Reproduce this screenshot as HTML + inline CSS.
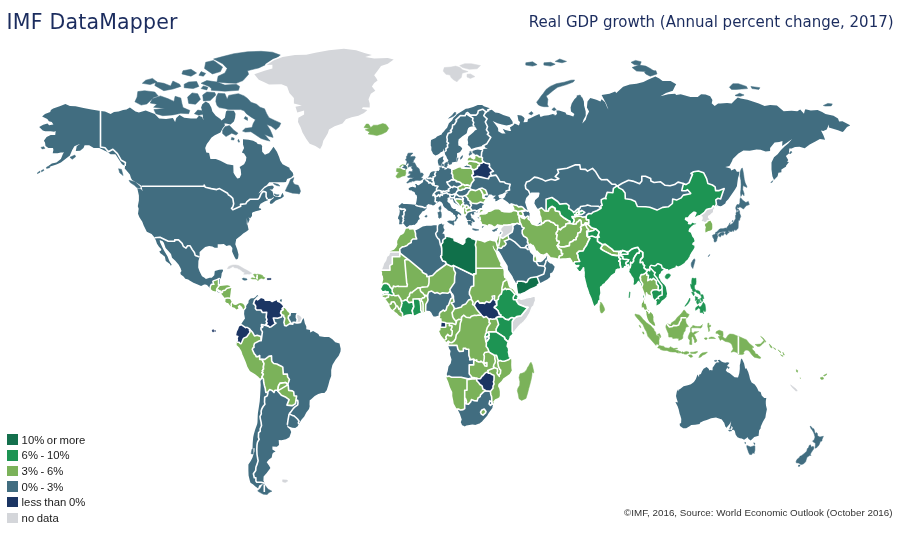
<!DOCTYPE html>
<html><head><meta charset="utf-8"><title>IMF DataMapper</title>
<style>
html,body{margin:0;padding:0;background:#fff}
body{width:900px;height:533px;position:relative;overflow:hidden;font-family:"Liberation Sans","DejaVu Sans",sans-serif}
.t1{position:absolute;left:6.6px;top:10.4px;letter-spacing:.2px;font-family:"DejaVu Sans","Liberation Sans",sans-serif;font-size:20.5px;line-height:24px;color:#1b2c5e;white-space:nowrap}
.t2{position:absolute;right:6.4px;top:13.5px;font-family:"DejaVu Sans","Liberation Sans",sans-serif;font-size:15px;line-height:17.5px;color:#1b2c5e;white-space:nowrap}
.lg{position:absolute;left:7px;top:432.6px;font-size:11.3px;word-spacing:-.5px;color:#1a1a1a}
.lg div{height:15.65px;line-height:15.65px;white-space:nowrap;position:relative;padding-left:14.6px}
.lg i{position:absolute;left:0;top:1.8px;width:10.5px;height:10.5px;display:block}
.ft{position:absolute;right:7.5px;top:507.9px;font-size:9.8px;line-height:9.8px;color:#333;white-space:nowrap}
svg{position:absolute;left:0;top:0}
.p{stroke:#fff;stroke-width:3;stroke-linejoin:round;paint-order:stroke}
.c{stroke:#fff;stroke-width:1.6;stroke-linejoin:round}
.i{stroke-width:.5;stroke-linejoin:round}
.b{fill:none;stroke:#fff;stroke-width:1.6;stroke-linejoin:round}
</style></head><body>
<svg width="900" height="533" viewBox="0 0 900 533">
<g fill="#416d80"><path class="p" d="M39.2 127.1L43.2 124.8L47.5 123.6L49.1 125.2L53.4 124.4L51.8 122L48.9 121.2L47.3 118.9L42.1 116.5L45 114.1L50.2 112.1L50.9 110L53.2 108.4L59.7 106.3L65.4 103.9L69.9 105.9L75.6 106.3L83.5 108L91.4 109.6L100.5 111L105 111.6L110.6 114.1L114 112.1L118.6 111.6L123.1 110L126.5 109.6L129.9 107.6L135.5 111.6L138.9 112.5L145.7 110.4L154.8 114.1L159.1 118.5L166.1 118.9L172.9 118.1L175.1 122L176.3 118.1L179.6 114.9L184.2 117.7L191 118.5L196.6 118.5L198.9 115.7L202.3 116.9L203.4 120.4L202.3 111.6L201.1 107.6L202.3 104.3L205.7 101.4L209.1 103.4L211.3 107.6L212.4 111.6L215.8 115.7L220.4 118.9L221.5 120.4L224.9 117.7L226 111.6L227.2 110.4L233.9 110.8L235.5 113.7L235.1 117.7L233.9 121.6L230.5 124.4L226 123.6L224.4 123.6L224.9 125.5L222.6 128.3L220.4 132.5L214.3 135.5L211.3 137.8L209.1 141.1L206.8 144.1L205.2 148.1L206.3 152.5L209.1 152.9L210.4 158.9L215.8 158.9L220.4 160.7L227.2 164.2L233.3 165.3L233.5 172.8L235.1 175.6L237.3 178.6L239.6 177.9L241.2 174.5L240.7 169.4L239.6 167L244.1 164.2L245.9 160.7L246.4 157.2L244.1 153.6L241.9 152.5L244.1 148.1L243 144.5L243 139.3L248.6 139.7L253.2 140.8L256.6 142.6L257.7 144.1L261.1 144.5L262.2 146.3L262 148.1L262.2 151.8L264.9 154.7L269 152.9L271.3 150L273.5 146.7L276.9 151.8L279.2 157.2L280.3 160.7L282.6 164.2L286 166L289.4 167.7L289.8 169.4L292.8 172.8L293.4 175.2L291.2 177.6L287.1 178.9L286 182L283.7 182.3L275.8 182.3L269.2 182.3L266.7 185.3L264.5 186.6L261.8 189.2L258.4 193.5L261.1 191.9L264.5 188.3L267.9 186.3L272.4 185.6L274 186.9L272.4 189.6L269.5 189.6L272.4 191.2L272.9 192.8L273.5 195.4L275.3 196.4L278.1 197.1L280.5 197.1L282.4 192.8L283.7 195.4L283.7 196.4L281.4 198.3L275.8 200.6L272.4 203.5L270.6 204.1L269.7 202.5L270.6 200.6L273.5 198.3L274 196.7L271.3 198.7L270.1 198.7L267.9 199L267.9 200.3L264.5 201.5L261.1 203.5L260.6 203.8L259.5 205.7L258.8 207.9L261.1 208.7L261.1 209.8L258.8 210.4L256.6 211L252.7 212.3L252 213.2L252 216L250 218.5L248.6 216.9L249.6 219.7L247.7 224L246.8 218.1L246.8 224.3L247.5 224.6L248.6 229.7L246.4 231.5L243.2 233.6L240.7 235.7L238.7 237.2L236.2 239.3L235.3 244.3L237.3 249.8L238.5 254.5L238.2 257.4L237.6 259.1L236 259.4L234.4 256.8L232.1 251.6L232.4 248.1L230.5 245.5L229 245.2L226.5 246.1L223.8 244L220.4 244.3L217.7 244.3L217.7 247.8L214.7 247.8L212.4 246.6L209.1 246.1L205.2 246.9L202.3 249.6L199.6 251.9L199.6 257.1L198.4 261.1L198.2 267.4L199.6 271.6L202 276.2L204.5 277.8L205.9 279.1L209.7 277.8L211.8 277.8L214.3 275.3L214.7 271.6L214.9 271.1L219.2 269.7L222.6 269.4L223.1 270.8L221.7 273.3L221.5 275.3L220.8 278.7L220.1 278.1L219.9 280.9L219.7 283.7L218.3 285.4L220.4 286L222.6 285.7L224.9 285.4L227.2 285.3L229.4 285.7L231.3 287.9L230.8 290.7L230.5 293.5L230.1 296.2L230.1 299L231.7 301.8L232.6 302.9L233.5 304.5L235.1 305.1L236.7 304.8L238.7 303.6L240.7 303L243 303.7L244.3 305.3L243.2 309.5L242.1 307L239.6 304.8L237.6 306.4L238.5 308.6L236.4 309.5L234.6 307.8L231.9 307.1L230.3 305.9L228.1 302.9L226.9 302.9L225.3 301.8L225.6 298.9L223.3 296.2L221.3 293.7L221.7 293.2L220.4 292.9L217.4 292.1L215.6 291.4L212.7 290.7L210.9 289.2L207 285.1L205.4 284.6L204.1 284.6L201.1 286L197.7 284.6L193.4 282.8L189.6 280.4L188.2 279.5L185.3 278.7L183.5 276.4L180.8 274.5L180.3 272.8L181.5 271.1L180.6 268.2L178.7 264.8L175.3 260.8L172 257.7L171 253.9L168.6 251.3L165.6 248.1L163.8 242.8L162.7 241.3L159.7 239.9L160 242.2L162.7 248.1L164.3 251L166.1 253.9L167.7 256.8L169 260.3L169.9 262L171.7 264.8L170.8 265.7L169.9 264L165.8 261.1L165.6 260.3L164.9 256.8L162.5 254.8L160.4 253.3L159.3 251.6L161.1 250.4L161.3 249.3L158.8 246.6L157 243.7L155.7 239.9L154.5 237.8L154.3 237.2L151.6 233.9L146.8 231.8L143.7 225.5L142.3 221.8L139.4 217.2L138 213.8L138.7 208.8L137.8 206.3L138.9 200.6L138.9 195.4L137.3 188.3L141.2 189.2L142.5 190.9L141.6 186.3L140.7 185.3L137.1 183L132.1 180L131 177.9L129.9 174.5L126.5 170.4L124.7 168.4L125.1 166L122 164.2L119.7 160.7L116.3 155.4L115.4 154.3L110.6 154.3L107.5 152.1L103.4 150L99.3 148.1L93.7 148.1L89.2 145.2L84.6 145.2L83.5 148.1L80.1 150.7L75.8 151.1L76.7 146.3L80.1 143.7L74.4 146.3L72.2 150L69.9 155.4L65.4 158.9L60.9 162.5L56.4 164.6L51.8 166L49.6 166.6L46.6 167.3L51.8 163.5L56.4 162.5L60.9 158.9L63.1 153.6L64.3 152.5L60.9 152.5L57.5 153.2L52.7 153.2L53.4 150L53 148.1L48.4 148.1L45.5 145.9L45 142.6L43.9 140.8L46.6 137L50.7 135.1L55.2 135.1L55.7 131L54.1 131.7L50.7 131.3L45.3 131.3L42.8 130.6Z"/><path class="p" d="M244.3 305.3L245.7 307.3L246.8 304.8L248.4 303.1L248.6 300.7L250.2 298.7L251.6 298.2L253.8 298.2L256.1 296.5L257.2 295L258.6 296.2L258.1 296.8L256.8 298.5L257.5 299.8L258.8 299L260.6 297.3L261.1 295.7L261.8 297.6L264.7 298.5L265.2 300.1L268.1 300.1L270.1 300.1L272.2 301.5L274.2 300.4L275.8 299.8L279.4 299.8L277.8 301.2L280.3 302.3L281.9 303.7L283.7 305.6L284.2 306.4L286.9 309.2L287.8 310.6L290 312.8L290.3 313L294.6 313L297.3 313.3L301.1 315.8L302.6 318L303.8 318.5L304.8 323.2L306.3 326.5L306.3 329.2L310 330L310.2 332.5L313.1 331.1L318.3 333.9L319.5 336.3L324.4 336.9L329 337L332.4 339.3L335.3 342.3L339.6 343.4L339.8 345.1L340.7 348.7L340.5 351.4L338.7 355.8L335.7 359.4L332.4 364.9L331.2 369.9L331.2 376.1L329.6 380.3L328.3 385.3L326.7 390.2L324.4 393L321.7 393L318.3 393.9L314.7 395.9L310.9 399.6L309.7 400.2L309.5 404.5L309.7 406.2L309 409.1L306.3 412.6L304.1 416.8L301.6 419.4L298.6 424.2L297.7 426.3L295.2 427.9L292.3 427.8L288.7 426.4L287.3 424.8L287.3 426.9L290 429.3L291.2 432L289.4 437.2L286 439.3L281.4 440.3L278.7 439.9L279 444.9L276.9 446.8L272.4 446.5L272.4 449.6L275.6 451.5L273.5 452.4L272.4 453.7L271.7 457.5L269 459.4L266.7 462.3L269 465.6L270.4 468L266.7 473.1L263.6 476.4L263.4 480.8L264.7 483.3L262.2 483.9L259.1 485.6L258.1 488.6L255.4 486.6L253.2 484.5L250.5 482.8L249.8 480.5L248.6 475.4L248.4 470.5L248.4 464.6L250.9 460.7L252.5 457.5L254.5 451.2L254.5 448L252.5 449L252.7 443.3L253.2 437.2L253.8 434.4L255.2 429.6L257.2 423.9L257.5 422.1L257.7 416.2L257.9 413.2L258.8 407.4L259.7 401.6L260.2 394.7L260.6 387.3L260.7 385.1L260.4 380.3L260.2 379.9L258.1 377.7L254.3 374.7L249.3 371.6L246.8 367.4L245 362.2L243 357.5L241.6 354.2L240.7 351.4L238.7 348.1L235.8 345.4L236 343.2L235.5 342.1L237.3 338.8L237.8 338.5L238.7 336L236.2 335.2L236.9 331.8L238.2 329.2L239.1 326.5L241.2 325.4L241.2 324.3L242.5 322.1L245 318.5L244.1 314.1L244.3 311.1L243.2 309.5L244.8 307.5Z"/></g>
<path class="i" fill="#416d80" stroke="#416d80" d="M280.8 123.2L279.2 126.7L275.8 129.8L271.3 126.3L266.7 124.4L270.1 129.8L272.4 135.1L273.1 137.4L269 136.3L264.5 134.4L270.1 141.1L265.6 140L261.1 138.5L256.6 135.5L250.9 131.7L245.3 132.1L242.5 131L245.3 128.3L252 127.5L253.2 123.6L255.4 119.7L250.9 116.9L246.4 113.7L244.1 110.8L240.7 109.6L233.9 109.6L228.3 109.6L224.9 108.4L219.2 107.6L217 105.5L215.8 101.4L216.3 97.1L218.1 93.3L224.9 93.7L227.2 99.3L228.7 95.4L235.1 94.2L238.5 93.7L244.1 95.9L247.5 98.4L250.9 102.2L256.6 104.3L260 107.2L264.5 108.8L266.7 113.7L269 117.7L274.7 120.4ZM155.9 113.7L162.7 115.7L172.9 114.9L180.8 113.3L188.7 113.7L189.8 110.4L183 107.6L181.9 103.4L180.8 98L175.1 96.3L174 101.4L168.3 98.8L160.4 95.9L152.5 98.8L150.2 103L157 104.3L153.6 107.2L164.9 108.4L153.9 109.6ZM134.9 101.8L141.2 105.1L146.8 103.9L153.6 97.6L158.2 95.9L154.8 92L144.6 90.7L137.8 91.6L137.1 97.1ZM154.8 85.5L163.8 90.7L172.9 89L180.8 86.4L179.6 84.2L172.9 81.1L170.6 85.9L163.8 83.3L155.9 82ZM188.7 103.4L195.5 104.3L200.5 99.3L197.7 93.7L192.1 92.9L187.6 97.1ZM203.4 100.9L210.2 100.5L215.8 95L214.7 92.5L206.8 92L202.7 95ZM211.3 90.3L224.9 91.2L238.5 90.3L239.6 86.4L236.2 84.2L224.9 85.1L217 82L206.8 80.6L201.1 83.3L209.1 86.4L211.3 88.6ZM217 82L227.2 82.9L236.2 83.3L243 80.6L248.6 74.3L247.5 70.7L258.8 67.9L272.4 61.4L280.3 55.1L272.4 52.2L261.1 51.3L247.5 51.8L233.9 53.7L222.6 56.6L213.6 59L222.6 63.7L227.2 68.4L224.9 73L218.1 76.2ZM204.5 68.4L212.4 73.9L220.4 71.6L222.6 67L213.6 60.4L205.7 62.3ZM222.6 133.6L226 136.6L231.7 133.2L236.2 135.1L238 133.2L233.9 130.2L229.4 125.5L224.9 126.7L222.6 130.2ZM285.3 190.9L292.8 193.2L293.9 193.2L297.3 193.5L299.3 194L300.5 191.2L299.5 187.9L298.2 185.3L295 184.6L293.4 183L292.8 181.3L293.9 177.6L290.5 179.6L288.9 183.6L287.1 186.9ZM129 180.3L135.5 182L140.1 186.6L140.3 188.3L137.1 187.8L134.4 185.3L130.3 182.6ZM118.6 168.7L121.5 169.4L123.1 175.6L119.7 172.8ZM69.9 157.2L74.9 155L75.6 156.8L72.2 159.3ZM46.4 167.3L50.2 166.3L49.6 167.7L46.6 168.4ZM41.2 170.8L43.5 169.4L43.9 170.4L41.6 171.8ZM37.1 173.2L39.8 171.1L40.1 172.2L37.6 173.5ZM41 147.4L43.9 146.7L44.8 148.5L42.1 148.9ZM142.3 83.3L150.2 84.6L157 82L152.5 78.4L145.7 80.2ZM184.2 87.7L193.2 88.6L198.9 86.4L196.6 81.5L188.7 82L184.2 84.2ZM201.1 88.6L206.8 89.9L207.9 87.3L203.4 85.9ZM194.4 113.7L198.9 115.3L203.4 114.1L202.3 110.8L197.7 110ZM181.9 73.9L191 76.2L196.6 73L191 69.3L183 70.7ZM198.9 75.3L203.4 76.2L205.7 73.4L201.1 71.6ZM274 193.8L276.9 194.8L279.2 194.8L278.1 196.1L275.1 195.4ZM273.5 183.3L278.1 184.3L279.9 186L276.9 185.6L273.8 184ZM238.5 139.3L239.6 141.9L238.7 142.3L237.8 140.8ZM231.7 137.4L234.2 138.2L233.9 140L231.2 139.7ZM244.1 118.5L247.5 120.4L247.5 117.7L245.3 116.5ZM264.3 484.2L265.2 485.6L267.9 489L271.9 491.2L269 492.4L267.2 494.5L263.4 494.2L261.1 493.1L257.7 491.1L258.8 489.7L260 489L261.1 487.3L262.7 484.5ZM252 449L253.2 449.3L253.2 454L251.1 453.7ZM242.2 278.8L243.2 278.1L245.5 278.4L247.1 279.1L246.8 279.9L244.8 280.2L243.4 280ZM279.4 301.6L280.3 299.8L281.6 299.6L281.4 301.5Z"/>
<g fill="#d4d6da"><path class="p" d="M320.1 148.9L315.4 145.9L309.7 143.7L306.3 138.9L302.5 132.5L300.7 127.5L298 122L298.4 117.7L304.1 114.5L304.1 110.4L297.3 112.5L295.5 106.7L301.8 105.5L293.9 103.4L293.9 98L289.4 92.9L287.1 86.4L281.4 84.2L269 84.6L263.8 82L258.8 79.8L254.3 74.3L264.5 70.7L272.4 68.4L272.4 64.7L266.7 65.1L273.5 60.4L282.6 57.1L295 55.1L306.3 54.7L315.4 52.7L329 50.3L343.9 48.8L356.1 50.3L365.2 53.2L371.9 55.1L365.2 57.1L374.2 58.5L387.8 58L393.7 59.5L387.8 63.7L381 66.1L377.6 70.7L374.2 75.3L376.5 78.4L377.6 80.6L374.2 82.9L371.9 86.4L375.3 90.7L370.8 93.7L368.5 99.3L369.7 103.4L369.7 107.6L362.9 107.2L361.8 108.8L367.4 110L364 112.9L358.4 115.7L351.6 117.3L345.9 119.3L342.5 123.6L334.6 126.3L329 129.4L327.8 133.2L325.6 137L323.3 140.8L322.2 145.2Z"/></g>
<path class="i" fill="#d4d6da" stroke="#d4d6da" d="M227.3 268.7L228.7 266.5L231.2 265.4L233 265L235.8 265L238.5 265.5L241.2 267.1L244.1 268.8L247.5 270.5L248.4 271.1L251.7 273.2L249.3 274.2L248 274L243.7 274.3L244.8 272.5L243 271.9L241.9 271.1L239.6 269.2L238.5 269L237.3 268.1L234.4 267.7L233.5 267.1L233.3 266.3L230.8 267.7L229.4 268.5ZM282.6 479.8L287.1 480.1L287.8 481.1L285.3 482.5L282.6 481.8Z"/>
<path class="i" fill="#7bb25a" stroke="#7bb25a" d="M364 127.5L366.3 124L368.5 124L370.8 127.5L373.5 125.2L377.6 125.2L382.8 123.6L386 124.4L388.7 128.3L386.6 131.7L382.1 134L376.9 135.5L373.1 134.8L368.1 134L369.7 132.1L365.2 129.8L369.7 128.6ZM251 278.5L251.8 277.7L254.3 278.3L255.8 278L254.8 276.4L253.4 274.5L255 274L256.1 274.6L257.4 274.2L259.5 274.5L261.3 274.9L263 275.9L262 276.6L264 276.9L264.9 277.8L263.9 279L261.3 278.3L259.7 279L258.6 279.8L257.9 280.7L257.1 279.4L255.3 279L252.6 279ZM531 362.2L532.3 364.9L533.7 371.3L533.7 373L532.1 371.9L531.9 375.5L531.2 379.3L529.9 384.5L528.7 388.7L527.8 392.4L526 398.4L521.6 400.4L519 398.7L518.2 394L517.3 390.7L517.9 388.2L519.7 385.3L519.9 381.7L519 377.5L520 373.8L521.9 373.3L524.2 372.4L526.5 369.9L527.8 367.1L528.7 366L529.9 363.5Z"/>
<g fill="#7bb25a"><path class="p" d="M406.1 227.9L407.5 227.6L409.5 229.7L412.7 229.4L414.5 230L414.5 230L418.1 228.2L419.7 227.3L422.4 225.8L426.5 224.9L431 224.9L435.1 224.3L437.1 224.6L438.9 224.4L438.9 224.4L441.8 223.4L442.8 224.9L444.4 224.1L443.4 226.1L443.5 227.9L444.6 229.7L443.9 231.2L442.3 233.6L444.3 233.9L444.6 235.7L445.6 235.9L445.6 235.9L449.3 236.6L451.8 237.5L453.8 238.1L454.3 240.5L457 241.6L460.2 243.1L462.7 244.3L464.7 242.5L464.8 239L467 237.1L468.5 236.6L470.7 237.1L472.2 238.7L473.7 239L476.3 240.3L476.3 240.3L481 241.2L484.8 242.7L487.1 241.6L489.4 240.8L490 240.6L492.5 241.3L495.9 241.8L496.9 241.3L498.4 246.6L498 248.4L497.4 251L496.9 251.8L495.5 250.1L494.1 248.1L493.1 245.3L492.6 246.3L493.3 248.4L494.1 250.1L495.4 251.9L495.9 253.3L497 256.5L498.4 259.5L499.8 262.5L500.4 262.8L500 265.4L502.9 268.2L502.9 268.2L503.6 271.1L503.6 275L503.9 276.4L504.1 277.8L506.8 279.5L506.8 279.5L508.7 286.2L509.9 287.9L512.7 289.3L515.4 292.9L516.2 293.5L517 294.3L517 294.3L517.4 295.1L517.6 296.4L515.8 297.5L517.1 297.3L517.3 297.8L517.3 297.8L517.9 297.9L521.3 299.3L524.6 298.5L526.9 297.6L529.2 297.1L530.8 297.1L533.2 296.2L535.3 296L535.7 300.5L534.6 303.1L533.9 305.9L532.2 307.4L530.5 311.9L529.2 314.5L526.9 318.2L524.2 321.5L522 323.6L520.7 324.5L519 326.2L515.7 330.2L513.4 333.7L513.4 333.7L512 335.5L510.4 336.6L510.2 338L509.2 340.3L508.1 341.9L508.1 341.9L507.9 343L507.2 346.2L508.4 347.8L508.8 350.3L508.4 352L508.8 353.7L509.3 356.6L511 357.9L511 357.9L511.3 360.8L511.2 364.9L511.4 368.3L511.8 370.5L509.7 374L506.5 376.3L503.2 378.6L501.6 381.1L498.4 384.1L498 386.2L499.3 388.7L499.8 391.6L499.8 395.6L499.3 397.3L497.7 398.3L495.2 399.3L493.2 401.5L493.9 404.1L493.9 404.1L493.2 407.4L492.9 408.6L492.1 409.7L489.7 412.9L487.8 416.2L485.3 419.1L482.6 422.1L480.3 423.9L477.5 424.9L475.6 425.7L472.4 425.2L469.6 425.7L466.7 426.3L464.7 427.5L463.1 426.4L462.1 426.1L461.3 426.1L461.1 424.8L459.9 422.1L460.9 419.4L459.3 414.7L457.6 411L456.7 409.1L456.7 409.1L453.7 403.5L453.2 400.2L452.3 395.9L452.3 392.9L452.3 392.1L451 389.6L449.8 386.8L448.2 381.7L446 376.8L446 376.8L446.1 373.3L446.9 371L447.7 366.3L450 363.1L450.7 359.4L449.3 355L449.3 353.3L449.8 351.1L448.5 349.1L447.4 345.9L447.4 345.9L447.1 345.2L447.1 344.9L446.6 342.9L446.3 342.3L444.6 340L443.5 338.6L441.2 335.8L440.5 334.4L439.1 331L440.5 330.3L440.6 328.1L441.2 326.5L441.5 324.1L441.6 322.8L441.8 321.1L441.4 318.2L440.3 318.2L439.5 316.7L439.5 316.7L438.2 316.6L436.4 317L435.3 317.2L433.3 317.4L431.7 315.2L430.8 313.3L429.6 311.9L427.1 311.5L425.6 311.8L425.6 311.8L424.9 311.8L423.2 312.2L422.2 312.5L422.2 312.5L421.7 313L419 314L416.6 315.2L414.7 316.2L412.4 315.2L412.4 315.2L410.4 314.8L408.1 315.1L405.6 315.6L402.5 317.3L402.4 317.3L402.4 317.3L399 315.5L396.7 313L395 311.9L393.4 310.3L391.2 308.9L389.5 305.9L389.4 304.4L388.5 303.1L386.6 300.4L385.4 299.1L385.5 298.5L384.2 296.7L383.3 296.9L381.7 295.3L381.7 295.3L381.4 294.7L381.4 293.3L381.9 292.2L382 291.8L381.4 290.7L379.9 288.7L380.8 287.9L382.1 285L382.1 285L382.6 282.3L383.3 279.3L382.8 275.6L382.1 275.6L382.1 272.2L380.9 271.6L380.9 271.6L381 269.9L382.6 266.3L383.4 263.4L385.5 260.3L386.6 256.5L388.7 254.8L389.1 253.5L389.7 252L389.7 252L390.3 251.2L393.4 250.1L394.3 249.6L396.4 246.9L397.6 244L397.1 243.3L397.3 240.8L398.5 238.4L400.2 235.6L402.3 234.5L404 233.2L405.5 229.7L406.1 227.9Z"/></g>
<g fill="#7bb25a"><path class="c" d="M260.2 379.9L258.1 377.7L254.3 374.7L249.3 371.6L246.8 367.4L245 362.2L243 357.5L241.6 354.2L240.7 351.4L238.7 348.1L235.8 345.4L236 343.2L235.5 342.1L237.3 338.8L237.8 338.5L237.8 338.5L238.2 339.9L237.6 341.4L239.4 341.4L240.7 342.9L242.1 339.6L242.5 338.5L243.4 337.4L246.2 336.3L249.3 331.9L248.4 329.6L249.3 329.5L249.3 329.5L251.1 330.7L252.7 332.6L254.5 335.9L257.2 335.2L260.9 336.6L261.2 340.7L261.2 340.7L259.5 340.7L254.5 343.4L253.8 345.9L254.1 347.3L252.7 348.1L252.3 349.5L254.3 353.9L255.7 355.3L256.1 356.6L258.1 356.6L259.7 355.5L259.7 359.4L262 359.3L262 359.3L264 363.5L263.4 366.9L263.6 369.1L262.4 370.5L262.9 371.6L262 372.7L263.4 374.1L262 376.9L262.2 377.5L260.2 379.9Z"/><path class="c" d="M262 359.3L263.8 359.4L264.9 359.4L268.8 356.4L271.5 355.8L271.7 360.8L272.4 362.2L273.8 363.5L276.9 364L279.2 365.2L281.4 366.3L282.8 367.1L283.3 374.1L287.3 374.1L287.6 376.9L289.4 379.4L288.7 381.7L287.9 383.9L287.8 384.9L287.8 384.9L285.7 382.5L279.9 383.4L278.5 385.9L277.7 390.9L277.7 390.9L277.4 390.2L274.9 390.2L274 392.4L271.9 390.4L269.7 389.6L267.4 392.4L267.4 392.4L265.8 392.4L265.2 388.2L264.5 385.9L263.8 382.8L263.4 378.9L262.2 377.5L262.2 377.5L262 376.9L263.4 374.1L262 372.7L262.9 371.6L262.4 370.5L263.6 369.1L263.4 366.9L264 363.5L262 359.3Z"/><path class="c" d="M277.7 390.9L278.5 385.9L279.9 383.4L285.7 382.5L287.8 384.9L277.7 390.9L281.4 395.3L286 397.3L289.1 399.6L286.9 405.1L291.9 405.6L293 405.4L295.5 403.6L295.9 400.4L295.9 400.4L296.6 396.1L294.1 395.7L293.7 391.9L292.3 390.9L288.7 390.4L288.2 385.1L287.8 384.9Z"/><path class="c" d="M284.2 306.4L286.9 309.2L287.8 310.6L290 312.8L290.3 313L289.8 315.5L288.5 316.1L288.2 318.2L289.1 319.9L290 321.5L291.6 324L291.6 324L289.8 323.7L286.4 325.9L284.6 325.4L284.4 324L283.9 322.6L284.8 318.5L284.4 317.2L283.5 316.9L283.7 315.2L282.1 315L282.1 315L280.5 312.9L281.2 310.8L283 309.7L282.1 308.6L284.2 306.4Z"/></g>
<g fill="#7bb25a"><path class="p" d="M210.9 289.2L210.9 287.1L211.9 285L214.8 284.9L213.6 281.6L217.8 280.1L217.7 285.4L218.3 285.4L219.9 286L217.8 288.7L217.3 289.6L216.7 290.1L215.6 291.4L212.7 290.7Z"/><path class="p" d="M219.9 286L220.4 286L222.6 285.7L224.9 285.4L227.2 285.3L229.4 285.7L231.3 287.9L228.3 288.7L227.2 289L225.3 291.1L223.3 291.3L223.2 292.6L222 293.5L221.7 293.2L220.8 292.4L221 291.3L219.2 290.8L218.1 289.9L217.3 289.6L217.8 288.7Z"/><path class="p" d="M231.3 287.9L230.8 290.7L230.5 293.5L230.1 296.2L230.1 299L227.8 298.7L225.6 298.9L223.3 296.2L221.3 293.7L221.7 293.2L222 293.5L223.2 292.6L223.3 291.3L225.3 291.1L227.2 289L228.3 288.7L231.3 287.9Z"/><path class="p" d="M230.1 299L231.7 301.8L232.6 302.9L231.9 304.2L232.1 305.6L231.9 307.1L230.3 305.9L228.1 302.9L226.9 302.9L225.3 301.8L225.6 298.9L227.8 298.7Z"/><path class="p" d="M232.6 302.9L233.5 304.5L235.1 305.1L236.7 304.8L238.7 303.6L240.7 303L243 303.7L244.3 305.3L244.8 307.5L243.2 309.5L242.1 307L239.6 304.8L237.6 306.4L238.5 308.6L236.4 309.5L234.6 307.8L231.9 307.1L232.1 305.6L231.9 304.2Z"/></g>
<g fill="#d4d6da"><path class="c" d="M297.3 313.3L301.1 315.8L302.6 318L301.8 319.3L300.5 322.4L297.7 322.9L296.2 322.9L296.2 322.9L296.8 321.5L297.3 319.3L296.4 317.7L296.4 315.5L297.3 313.3Z"/></g>
<g fill="#1b3563"><path class="c" d="M258.1 296.8L256.8 298.5L257.5 299.8L258.8 299L260.6 297.3L261.1 295.7L261.8 297.6L264.7 298.5L265.2 300.1L268.1 300.1L270.1 300.1L272.2 301.5L274.2 300.4L275.8 299.8L279.4 299.8L277.8 301.2L280.3 302.3L281.9 303.7L283.7 305.6L284.2 306.4L284.2 306.4L282.1 308.6L283 309.7L281.2 310.8L280.5 312.9L282.1 315L282.1 315L281.4 316.9L277.6 318.2L274.7 318L273.3 318L274.7 322.4L276 323.2L271.3 326.7L269.5 327.1L268.1 325.9L268.1 325.9L267.6 325.9L265.8 324.4L267.2 322.9L266.1 321.5L267 319.6L266.1 317.4L266.7 312.2L262.4 312.5L260.9 310L256.6 310L255.4 308.6L255.7 306.2L254.3 304L253.4 304L254.5 300.4L256.1 298.7L258.1 296.8Z"/></g>
<g fill="#1b3563"><path class="p" d="M237.8 338.5L238.7 336L236.2 335.2L236.9 331.8L238.2 329.2L239.1 326.5L241.2 325.4L243.4 327L245.5 328.5L246.8 328.1L249.3 329.5L249.3 329.5L248.4 329.6L249.3 331.9L246.2 336.3L243.4 337.4L242.5 338.5L242.1 339.6L240.7 342.9L239.4 341.4L237.6 341.4L238.2 339.9L237.8 338.5Z"/></g>
<path class="i" fill="#1b3563" stroke="#1b3563" d="M267.3 278.5L271 278.4L271 279.5L267.4 279.7ZM212.2 330L213.6 329.7L213.8 331.7L212.7 331.9ZM214.7 330.6L215.4 330.6L215.4 331.4L214.7 331.3Z"/>
<g fill="#416d80"><path class="c" d="M414.5 230L418.1 228.2L419.7 227.3L422.4 225.8L426.5 224.9L431 224.9L435.1 224.3L437.1 224.6L438.9 224.4L438.9 224.4L438.3 225.8L438.1 227.3L438.2 229.4L438.1 231.4L436.4 233.6L437 235.7L438.3 237.8L439.9 239L441.1 244.6L441.1 244.6L441.7 248.1L441.8 251.6L441.7 255.4L440.7 256.4L442.6 260.8L445.5 261.7L446.5 264L446.5 264L436.4 271.5L432.6 275.5L429.1 276.3L429.1 276.3L426.9 276.7L426.7 274.5L423.5 273.1L422.2 271.9L422.1 270.8L408.5 259.7L408.5 259.7L399.8 253L399.8 253L399.8 252L399.8 252L399.8 249L402.3 246.9L404.5 246.5L407 245.5L408.4 244L411.2 242.5L411.3 240.5L412.9 239L416.7 239L416.5 238.4L415.6 236.3L415.5 233.3L414.5 230Z"/><path class="c" d="M450.2 291.5L449.9 289.4L454.5 282.6L454.7 276.7L455.5 272.8L453.8 269.7L453.4 265.4L453.4 265.4L473.7 275.3L473.7 275.3L473.7 286L471.3 286.5L470.1 289.3L469.4 291.8L469.4 294.3L470.4 295.7L471.3 297.9L471.2 299.2L471.2 299.2L468.5 300.1L465.6 304.1L462.4 305.2L461.5 307L457.2 308.2L454.5 308.6L454.5 308.6L453.2 305.6L451.1 302.9L454.1 301.8L453.5 299L453.4 296.2L452.3 293.9L451.6 293.7L451.6 293.7L450.2 291.5Z"/><path class="c" d="M427.6 297.1L427.8 294.6L428.7 292.1L431.7 291.1L434.8 293.2L437.1 292.5L439.8 293.9L442.5 292.8L447.7 293.3L450.2 291.5L450.2 291.5L451.6 293.7L451.6 293.7L452.5 297.6L450.7 299L449.3 302.9L448.4 305.3L447.1 306.2L446.1 310L444.6 311.1L443.2 310L441.6 311.4L440.5 311.9L439.4 313.9L439.5 316.7L439.5 316.7L438.2 316.6L436.4 317L435.3 317.2L433.3 317.4L431.7 315.2L430.8 313.3L429.6 311.9L427.1 311.5L425.6 311.8L425.6 311.8L425.7 307.8L425.8 304.4L427.6 301.2L428 299.8L427.6 297.1Z"/><path class="c" d="M446 376.8L446.1 373.3L446.9 371L447.7 366.3L450 363.1L450.7 359.4L449.3 355L449.3 353.3L449.8 351.1L448.5 349.1L447.4 345.9L447.4 345.6L449.3 345.2L457 345.4L457.9 349.2L459.3 351.4L463.3 351.1L463.3 348.4L465.8 348.4L466.1 349.2L468.8 349.2L468.9 355.5L469.9 358.3L469.7 359.9L473.5 359.1L473.7 359.1L473.7 359.1L473.7 364.9L469.2 364.9L469.2 373.8L472.4 377.7L472.4 377.7L467.9 378.9L461.1 377.2L451.6 377.2L448.9 376.1L446 376.8Z"/><path class="c" d="M447.1 344.9L446.6 342.9L448.4 341.2L449.1 341.8L448 344.8Z"/><path class="c" d="M493.9 404.1L493.2 407.4L492.9 408.6L492.1 409.7L489.7 412.9L487.8 416.2L485.3 419.1L482.6 422.1L480.3 423.9L477.5 424.9L475.6 425.7L472.4 425.2L469.6 425.7L466.7 426.3L464.7 427.5L463.1 426.4L462.1 426.1L461.3 426.1L461.1 424.8L459.9 422.1L460.9 419.4L459.3 414.7L457.6 411L456.7 409.1L456.7 409.1L458.8 409L459.3 409.6L460.6 410L463.1 409.6L464.7 408.6L464.7 398L464.7 398L465.6 398.9L466.5 401.3L466.2 403.9L468.5 404.1L470.8 401.6L471.5 399.6L474.4 400.7L477.1 400.9L478 398L480.2 396.6L480.5 394.9L483.5 391.9L485.9 390.7L485.9 390.7L488 391L490.3 391.4L490.3 391.4L490.8 394.4L491.6 396.7L491.8 400.4L491.8 401.5L492.1 404.1L493.9 404.1Z"/><path class="c" d="M485.1 336.6L487.1 336.7L488.6 335.8L489.1 338.2L488.2 339.5L487.3 341L485.8 341.4L485.5 338.2Z"/></g>
<g fill="#416d80"><path class="p" d="M438.9 224.4L441.8 223.4L442.8 224.9L444.4 224.1L443.4 226.1L443.5 227.9L444.6 229.7L443.9 231.2L442.3 233.6L444.3 233.9L444.6 235.7L445.6 235.9L445.6 235.9L445.5 238.1L443.4 239.4L442.8 240.2L442.8 242.5L441.1 244.6L441.1 244.6L439.9 239L438.3 237.8L437 235.7L436.4 233.6L438.1 231.4L438.2 229.4L438.1 227.3L438.3 225.8L438.9 224.4Z"/></g>
<g fill="#d4d6da"><path class="c" d="M380.9 271.6L381 269.9L382.6 266.3L383.4 263.4L385.5 260.3L386.6 256.5L388.7 254.8L389.1 253.5L389.7 252L399.8 252L399.8 253L399.8 256.8L392.3 256.8L392.3 264.1L390 265.4L389.8 266L390 270.1L381.1 270.1Z"/><path class="c" d="M517.3 297.8L517.9 297.9L521.3 299.3L524.6 298.5L526.9 297.6L529.2 297.1L530.8 297.1L533.2 296.2L535.3 296L535.7 300.5L534.6 303.1L533.9 305.9L532.2 307.4L530.5 311.9L529.2 314.5L526.9 318.2L524.2 321.5L522 323.6L520.7 324.5L519 326.2L515.7 330.2L513.4 333.7L513.4 333.7L512.2 331.5L512.2 321.5L514.2 318.4L514.2 318.4L516.7 316.6L521.1 315.8L528 307.3L525.8 307.3L519 304.5L518.1 303.6L516.3 300.9L516.6 299.1Z"/></g>
<g fill="#10704a"><path class="c" d="M445.6 235.9L449.3 236.6L451.8 237.5L453.8 238.1L454.3 240.5L457 241.6L460.2 243.1L462.7 244.3L464.7 242.5L464.8 239L467 237.1L468.5 236.6L470.7 237.1L472.2 238.7L473.7 239L476.3 240.3L476.3 240.3L475.3 244.9L476 247.5L476 268.2L476 268.2L476 273.9L473.7 273.9L473.7 275.3L473.7 275.3L453.4 265.4L453.4 265.4L451.6 266.5L446.5 264L446.5 264L445.5 261.7L442.6 260.8L440.7 256.4L441.7 255.4L441.8 251.6L441.7 248.1L441.1 244.6L441.1 244.6L442.8 242.5L442.8 240.2L443.4 239.4L445.5 238.1L445.6 235.9Z"/></g>
<g fill="#1d9453"><path class="c" d="M381.7 295.3L381.4 294.7L381.4 293.3L381.9 292.2L382 291.8L381.4 290.7L379.9 288.7L380.8 287.9L382.1 285L382.1 285L383.3 283.7L385.3 283.3L387.1 283.5L389.1 285L390.3 287.4L391.7 288.6L391.7 288.6L392.3 289.9L392.2 291.5L392.5 292.4L393.7 293.5L393.7 295.1L393.7 295.1L391.5 295.4L389.8 294.6L388.5 294.4L388.5 294.4L385.1 294.4L381.7 295.3Z"/><path class="c" d="M412.4 315.2L410.4 314.8L408.1 315.1L405.6 315.6L402.5 317.3L402.4 317.3L402.4 317.3L402.6 314.7L402.3 313L400.4 311.4L400.3 308.5L400.3 308.5L400.8 307.4L401.4 306L401.6 304.2L402.1 303.4L401.4 301.2L401.4 301.2L403.7 300.8L405.4 299.8L407 300.5L407 300.5L409 302.6L412.2 302L413.3 303.1L413.3 303.1L413.8 306.7L412.2 310.6L413.1 314.4L412.4 315.2Z"/><path class="c" d="M422.2 312.5L421.7 313L419 314L416.6 315.2L414.7 316.2L412.4 315.2L412.4 315.2L413.1 314.4L412.2 310.6L413.8 306.7L413.3 303.1L413.3 303.1L413 299L419.1 298.7L419.1 298.7L419.4 300.1L420.2 300.9L420.4 303.1L420.7 305.9L420.8 308.9L420.7 310.3L422.2 312.5Z"/><path class="c" d="M514.2 318.4L511.8 317.6L509.6 318.7L508.8 319.9L505.6 319.3L502.8 317L501 317L500.8 316.6L500.8 316.6L500.7 314.7L499.3 314.4L498 310.8L496.4 309.2L494.1 307.5L494.8 306.2L496.6 305.6L496.6 302.9L496.6 302.9L497 300.1L498.4 299.3L498.6 296.8L500.2 294.6L501.2 294.3L502 291.3L502 289.9L502 289.9L503.8 289.6L505.2 288.2L506.3 289.6L507.7 289L510.4 289.4L512.7 291.8L515.4 294.9L515.4 294.9L513.9 297.6L514 299.1L516.2 299.1L516.6 299.1L516.6 299.1L516.3 300.9L518.1 303.6L519 304.5L525.8 307.3L528 307.3L521.1 315.8L516.7 316.6L514.2 318.4Z"/><path class="c" d="M513.4 333.7L512 335.5L510.4 336.6L510.2 338L509.2 340.3L508.1 341.9L508.1 341.9L504.7 338.8L504.5 337.4L496.1 331.9L496.1 331.9L496.1 328.9L496.6 328.1L497.5 326.2L498.6 324.5L497.5 320.7L496.3 317.6L496.3 317.6L498.6 316.6L500.8 316.6L500.8 316.6L501 317L502.8 317L505.6 319.3L508.8 319.9L509.6 318.7L511.8 317.6L514.2 318.4L514.2 318.4L512.2 321.5L512.2 331.5L513.4 333.7Z"/><path class="c" d="M508.1 341.9L507.9 343L507.2 346.2L508.4 347.8L508.8 350.3L508.4 352L508.8 353.7L509.3 356.6L511 357.9L511 357.9L508.4 359.8L506.5 360.5L504.3 361.3L502 361.3L500.4 360.5L498.5 360.9L498.5 360.9L497.7 359.4L497 356.6L496.4 355.3L494 355L494 355L492.7 354.2L490 352.8L489 351.7L489 351.7L487.8 348.4L486.2 346.5L486.4 342.9L485.8 341.4L485.8 341.4L487.3 341L488.2 339.5L489.1 338.2L488.6 335.8L488.6 335.8L489.2 335.5L488.4 332.1L488.4 332.1L489.1 331.9L496.1 331.9L496.1 331.9L504.5 337.4L504.7 338.8L508.1 341.9Z"/><path class="c" d="M486.4 333L488.4 332.1L489.2 335.5L488.6 335.8L487.1 336.7L485.1 336.6L485.6 333.9Z"/></g>
<g fill="#1d9453"><path class="p" d="M517 294.3L517.4 295.1L517.6 296.4L515.8 297.5L517.1 297.3L517.3 297.8L516.6 299.1L516.6 299.1L516.2 299.1L514 299.1L513.9 297.6L515.4 294.9Z"/></g>
<g fill="#1b3563"><path class="c" d="M496.6 302.9L496.6 305.6L494.8 306.2L494.1 307.5L496.4 309.2L498 310.8L499.3 314.4L500.7 314.7L500.8 316.6L500.8 316.6L498.6 316.6L496.3 317.6L496.3 317.6L495.2 318.9L492.3 319.3L490 318.8L489.3 319.6L489.3 319.6L487.8 318L486.2 316.5L483.7 317.4L481.6 315.3L481.6 315.3L479.3 312.6L476.5 309.2L474.2 305.3L474.2 305.3L475.6 302.3L478 300.7L479.6 303.1L482.6 302.9L484.6 303.4L486.4 301.5L489.1 302.5L490 302.3L492.7 298.7L492.5 297.1L492.1 296.2L494.6 295.7L494.3 299.8L496.1 301.2L496.1 303.1L496.6 302.9Z"/><path class="c" d="M476.6 378.3L477.9 378.6L480.5 378.7L481.9 376.3L482.8 375.8L484.7 373.4L486.2 372.3L488.3 372.2L488.3 372.2L488.2 373.3L490.3 373.3L491.8 374.5L493.9 375.2L494.1 376.9L494 380.3L493.4 381.7L494.1 383.9L493 386.2L493 388.2L490.3 391.4L490.3 391.4L488 391L485.9 390.7L485.9 390.7L482.8 389L482.1 385.9L479.9 384.5L478.7 382.8L476.7 380.6L476.6 378.3Z"/></g>
<g fill="#1b3563"><path class="p" d="M441.6 322.8L445.1 323.3L445.1 326.5L441.2 326.5L441.5 324.1Z"/></g>
<g fill="#7bb25a"><path class="c" d="M381.4 293.2L383.7 293.1L384.8 292.4L387.1 292.9L388.2 292.5L388.1 291.9L386.9 292.1L385.3 291.3L384.4 291.8L382 291.8L381.9 292.2Z"/><path class="c" d="M484.2 409.1L486 411.5L485.5 412.9L483 415.1L481.4 414.1L480.5 412.1L481.9 410Z"/></g>
<g fill="#416d80"><path class="p" d="M496.9 241.3L498.1 239L498.6 236.9L498.9 236L499.8 233.6L500.6 232L500.8 231.4L500.3 228.7L500.7 227.5L500.7 227.5L501.3 225.5L500 225.5L497.7 224.9L495.7 226.9L493.7 227.2L491.8 225.6L488.9 224.7L488.2 226.5L485.3 225.3L483.2 224.9L481.4 224.3L481 222.4L478.9 220.3L480.3 219.8L479.9 217.2L478.4 216.6L478.7 215.1L480.5 213.8L482.7 214L485.1 213.8L487.1 212.7L485.1 211.9L485.3 211.3L485.3 211.3L488 211.5L490.5 211L494.1 209L495.8 208.8L499 208.7L500.9 209.8L501.6 211L504.3 211.8L509.3 211.9L511.1 211.8L513.4 210.4L513.4 210.4L513.6 209.9L513.7 208.3L512.2 205.7L509.9 204.4L509.9 204.4L507.8 202.2L505 200.3L503.8 199.6L502.5 198.7L504.1 198L505.4 196.1L506.1 193.8L508.4 192.5L505.9 192.5L504.4 192.5L502.7 193.7L499.3 194.8L498.2 195.6L499.3 198.2L502 198L499.5 199.3L496.7 200.9L495.2 201.2L495.5 199.3L494.9 198.7L493 198.2L495.5 196.1L495.7 195.6L493 195.8L491.4 194.5L489 194.5L487.8 196.6L486.5 198.2L486.5 198.2L486.6 198.8L484.3 201.9L484.2 203.3L483.8 204.4L482.7 205L481.7 207.2L482.8 208.8L483.1 210.2L485.2 211.2L484.9 211.9L482.8 211.9L481.7 212L480.5 213.2L479.7 213.8L478.7 214.9L478.9 214.1L480.1 213.2L478.4 212.8L478.4 212.8L478 212.4L474.7 212.1L473.6 212.7L474.7 214.6L473.6 214L473.6 215.2L473.1 214.4L473.2 215.2L472.3 214.4L471.4 213.2L470.6 213.7L470.6 215.1L471.5 216.9L472.3 217.5L471.4 217.1L471.3 218.3L472.4 218.3L475.1 221.2L473.7 222.3L472.8 221.4L471.5 221.4L472.6 223.1L471.8 223.4L471 222.6L471.9 225.9L470.5 225L470.4 226.1L469.4 224.3L468.5 224.9L468.2 223.7L467.6 222.1L467.2 221.4L468.5 220.5L471.3 221.2L470.1 220.1L468.8 220L467.9 220.1L467.2 220L466.4 218.3L465.3 216.6L464.7 216L464.7 216L464.7 215.5L463.5 213.7L463.3 211.9L463.5 211L463.3 209.3L462.7 208.5L461.3 207.6L460.4 206.8L459.3 206L457.9 205L456.7 204.1L455.5 203.5L453.8 202.2L453.2 200.3L452.1 198.3L450.9 199.9L450.1 197.9L450.4 197.5L450.6 197.2L450.6 197.2L449.1 197.2L447.4 198L447.7 199.6L447.3 201.2L448 202.3L450 203.8L450.9 206L451.6 207.4L453.6 209L456 209.1L455.4 210.4L457.6 211.6L460.1 213L461.3 214.7L461 215.7L460.2 214.9L458.4 213.7L457 216L458.2 218L456.9 219.1L455.9 221.4L454.9 220.9L455.3 219.1L456.1 218.1L455.6 217.1L454.9 214.9L453.4 214.4L452.8 213L451.7 212.4L450.2 211.3L448 210.5L447.2 209.6L446.1 208.5L444.6 207.6L443.2 205.8L442.8 203.9L441.6 202.3L439.7 201.2L438.7 201.5L437.5 202.8L436.4 203.2L436.4 203.2L435.9 203.5L435.3 203.9L434.5 204.9L432.9 205.4L431.6 204.7L429.9 204.4L428.3 203.9L427.8 204.4L426.5 205.4L426.4 206.6L426.6 207.5L426.6 207.5L426.9 207.9L424.4 210.7L422.3 211.6L421.4 212.9L419.4 215.2L418.8 216.8L419.9 218.9L418.3 220.1L417.2 222.4L414.5 225L413.9 224.7L411.5 225.2L409.5 225.2L407.3 226.9L406.8 227.3L405.2 225.8L403.7 223.7L402.7 223.7L401.6 224.3L399.1 224.3L399.4 221.4L399.3 219.7L398 218.8L398.2 217.1L399.3 214.6L399.8 211.5L399.4 209.1L399.5 208.2L398.4 206L400.4 204.4L402 203.1L403.5 203.9L406.6 203.9L410.9 204.2L412.7 204.6L414.9 204.7L415.4 204.6L415.4 204.6L415.9 204.1L416.6 200.4L417 197.5L416.8 195.6L415.4 194.5L414.5 192L412.4 191.2L411.8 190.4L409.6 190.2L408.7 189.4L408.7 188.3L410.4 187.3L412.7 186.8L414.9 187.4L416.1 187.4L415.8 185.6L415 184L415.8 184.1L416.6 184L417 185.1L418.8 185.3L419.7 184.6L421.9 183.1L423.1 182L423.1 180.5L423.6 179.8L425.2 179.3L425.2 179.3L426 178.8L427 178.4L427.4 177.9L428.5 176.4L429.1 175.9L430.2 173L431.7 171.8L433.5 171.3L435.3 171.6L435.7 171.5L437.8 170.8L438.2 171.1L438.8 171L439.1 169.8L439.8 169.8L439.5 168.9L439.6 167.9L439 166.3L438.5 164.4L437.9 162.5L437.8 160.3L438 160L438.9 158.6L442 156.8L443.4 156.3L443.3 157.3L442.8 159.1L444.1 161L442.6 161.9L442.1 163.5L440.9 164.2L441.8 166.5L440.8 166.6L440.8 166.6L442.4 168.2L444.6 168L444.1 169.6L445.4 169.6L446.8 168.9L447.7 167.9L449.1 168.4L450.6 168.9L451.7 169.8L454.6 168.7L457.7 167.3L460.9 166.5L461.6 168L463.3 168.2L464.2 167.9L464.5 167.2L464.7 166.1L465.8 166L467 164.9L467.2 163.5L467.1 162.3L467 160.7L467.1 158.8L468.2 157.5L470.6 156.3L471.9 157.9L473.7 158.9L474.7 158L474.5 155.8L474.9 154.1L472.6 152.9L472.5 151.1L473.9 150.5L475.4 150.1L477.8 149.6L480.5 150.1L482.8 150.1L483.7 149.1L487.8 148.5L485.1 147.4L484.4 145.6L482.3 146.1L482.3 146.1L480.4 146.5L475.9 147.6L471.4 148.9L469.8 146.7L467.6 144.8L468.1 144.1L468.1 142.3L467.6 139.7L468.3 136.6L470.8 134.4L471.7 133.8L473.7 132.1L474.9 130.6L477 129.4L475 126.5L474.1 126.3L474.1 126.3L471.5 126.5L469.6 127.1L468.1 128.3L467.4 130.6L466.7 133.2L465.4 134.2L462.4 136.3L460.1 138.3L458.7 139.3L458.2 141.9L458.4 145.6L460.2 146.3L462 148.1L462.2 149.1L460.9 150.7L460.1 152.1L457.9 152.9L457 153.2L457.1 156.3L456.7 158L456.4 160.2L455.6 161.9L454.7 161.9L452.7 162.3L451.8 162.8L451.9 164L450.7 164.6L449.2 164.7L448.7 163.9L448.2 162.3L447.6 161.4L448.5 160.2L447.1 158.6L446.4 156.4L445 154.3L444.7 151.6L444.7 151.6L444.1 151.1L443.7 148.5L443.2 150.7L442.2 151.8L440.7 152.3L439.2 153.8L437.5 154.8L435.4 155.4L433 153.8L432.3 152L431.3 150.3L431.4 146.7L430.8 145.9L430.8 144.1L430.8 142.3L431.1 140L433.4 139.1L435.6 138L437 136.6L438.7 135.7L441.6 134.6L442.1 133.2L444.3 131.1L444.9 130L447.1 127.7L448 125.5L448.9 123.2L452 120.4L453.4 118.1L455.6 116.1L456.8 114.5L459 112.9L462.3 111L465.8 108.8L468.1 108.4L473.1 107L477.8 104.9L482.1 105.1L483.9 106.3L489.8 108.2L486.8 109.4L487.4 110.8L489.2 110.4L489.2 110.4L491.8 109.8L495.2 112.5L498.9 112.9L503.2 114.9L509.5 117.1L512.4 121.2L512.9 123.6L509.9 124.8L506.5 125.4L502 124.6L497.5 123.2L492.7 121L495.7 124.8L498 127.9L498.2 129.6L498.2 131.3L502 133.6L505.6 133.6L504.3 131.7L502.8 128.8L505.4 130L509.5 131.1L511.1 131.1L509.9 127.5L513.3 125.2L514.7 123.6L519 125.5L520.1 122L518.5 120.8L517.4 115.1L521.3 115.5L523.5 116.9L524.6 118.5L523.5 122.2L527.4 122L528 119.1L530.3 118.3L534.8 116.1L539.4 114.1L540.5 116.9L543.9 115.7L548.4 115.3L552.9 114.1L555.2 114.9L554.1 116.3L557 114.1L556.3 110.6L559 110.6L565.4 112.5L566.5 114.5L569.9 115.3L573.3 116.5L574.4 114.1L571 111.6L570.6 107.6L571.7 103.4L574.4 99.3L576.7 97.1L577.8 95.4L582.3 97.6L583.9 101.4L584.1 105.5L585.7 111.6L585.7 115.7L583.5 119.7L582.3 123.6L585.7 119.7L586.9 115.7L589.1 111.6L586.9 107.6L587.5 101.4L590.3 98L594.8 99.3L597 100.1L600.4 101.4L601.6 99.3L605 102.2L607.2 107.6L608.4 109.6L606.1 103.4L601.6 95L609.5 93.7L615.1 91.6L616.3 92.9L623.1 86.8L629.8 84.6L636.6 83.7L643.4 82L647.9 79.8L655.4 76.6L659.3 78.4L662.6 81.1L670.6 81.1L676.2 84.2L675.1 85.9L672.8 90.7L666 92.9L660.4 96.3L668.3 94.2L675.1 93.7L676.2 95L680.7 94.2L690.5 97.1L697.7 97.1L701.1 94.2L705.6 94.6L710.2 96.3L712.4 100.1L711.3 105.5L711.1 102.8L714.7 105.9L718.1 103.4L720.3 103.4L727.1 103L731.6 103.4L735 100.1L737.8 97.6L740.7 98.4L747.5 99.7L758.8 103.4L764.5 105.9L770.1 105.1L776.9 105.5L783.7 111.2L787.1 111L791.6 110.8L797.3 111.2L800.2 109.6L804 113.7L804.7 110.8L805.4 109.2L810.8 110.4L817.6 110L822.1 112.1L825.5 114.1L833.5 115.7L838 118.5L839.1 121.6L842.5 121.2L849.7 125L850.1 125.4L850.1 125.4L847 127.1L843.6 131.3L842.5 132.1L838 130.2L828.9 127.5L828.9 124.4L826.7 129.4L823.3 131L821 130.4L823.3 135.1L825.1 139.8L819.9 138.9L815.4 141.5L809.7 144.5L804.7 148.3L799.5 146.7L795 147L791.6 148.5L789.3 148.5L788.9 153.6L785.9 156.1L788.2 160L787.1 161.8L788.9 162.1L785.9 166L786.2 166.6L781.4 169.4L781.4 172.2L778.4 172.8L777.6 176.2L774 180L772.4 176.2L771.5 169.4L771.5 162.5L774 157.2L777.6 154.3L781 150L784.8 146.3L788.2 143.4L792.1 138.9L787.5 142.3L782.1 145.9L782.5 141.1L779.2 141.9L774.6 142.6L770.1 148.1L770.1 151.1L765.6 151.4L760.6 149.8L756.5 149.6L749.7 150.7L743.4 150.5L738.4 153.6L732.8 158.9L732.1 160.9L729.4 166L725.3 167L730.5 168.4L731.2 170.4L735 168.7L736.9 171.8L739.3 171.8L738.9 175.2L738 178.1L737.3 183L736.9 186.3L735 189.6L732.8 192.8L730.5 196.1L728.3 199.3L726 201.5L725.3 203.5L721.5 206.1L720.1 206.3L717.8 205.4L716.9 204.4L715.8 206.9L715 207.9L715 207.9L714.5 207.9L713.1 209.4L712.9 212.3L711.7 213L709.7 214.9L708.1 215.7L707.8 217.5L709 219.1L709.8 219.4L711.1 222L712.2 224.1L712.3 227.2L712.2 228.8L711.5 230L709.9 230.8L708.3 231.1L705.6 232.4L705.3 230.9L705.5 228.5L705.9 227.3L704.8 225L705.9 222.9L706 221.8L704.7 222L703.8 221.2L701.6 220.9L702.7 219.1L702.7 216.6L701.6 216.3L700.8 215.2L700.8 215.2L700.4 215.5L697.7 216.3L694.5 218.5L693.5 218.9L694.3 216.6L695.7 213.5L695.9 213L695 212.3L693.4 212.4L693 212.9L690 215.4L688.4 217.7L685.8 218.1L685.5 219.4L688.4 221.2L689.1 222L688.6 223.4L690.5 223.8L691.6 222.3L692.6 221.8L694.1 222.6L695.8 222.7L697 223.1L696.4 224.7L694.3 225.2L691.7 227.2L689.9 229.1L689.3 231.1L691.6 232.4L693 236.3L694.5 238.1L695.2 240.2L695.2 241.9L693.2 243.4L693 244.3L695.2 245.3L695.2 247.8L694.5 249.3L693.2 251.2L691.8 253.3L690.9 254.9L690.1 256.8L688.7 259.1L688.1 260.1L686.6 261.3L684.8 263.7L683.6 264.4L680.7 266.3L677.8 267.4L676.4 266.3L676.3 267.8L672.8 269L669.4 270.5L669.4 273.1L668.1 273.1L667.6 269.8L666.3 269.8L664.7 269.4L663.8 269.5L663.8 269.5L661.1 271.6L660.6 273.3L659 274.6L658.7 277.6L660.2 279.5L660.6 280.9L662.9 283.6L664.3 284.8L665.8 287.1L666.6 291.4L667.1 293.7L666.5 295.5L666.5 296.7L664 299.3L661.7 300.8L660.8 302.3L659.7 303.7L656.5 305.6L656.7 302.3L657.2 301.8L655.9 300.7L655.9 300.7L655.2 300.2L653.6 300.1L652.7 298.5L652.2 297.2L652.2 297.2L651.3 295.7L650.4 294.9L648.6 294.4L647.7 293.7L646.9 292.1L645.7 292.5L645.6 294.7L645.2 296.8L643.9 300.4L644.2 303.8L645.5 303.7L646.4 306.2L647 309.5L648.6 310.3L649.9 311.7L650.4 312.1L650.4 312.1L650.8 312.2L652.8 314.5L653.5 316.9L653.3 318.8L653.5 321.3L654.4 322.5L655.3 325.4L654.4 325.8L653.6 325.6L652.2 324.4L650.8 323.2L649.8 322.4L648.7 321L647.5 318.5L646.9 316.3L646.5 314.4L646.5 312.5L645.9 311.5L645.9 311.5L645.8 311.3L644.5 309.2L643.2 307.1L641.8 307.8L641.8 306.7L641.7 304.8L642.1 302.9L642.4 301.9L642.4 301.9L642.3 299L642.5 296.5L642.5 295L642.1 292.6L641.4 290.4L640.6 287.2L640.3 283.9L638.9 282.3L638.6 281.5L637.3 283.5L635 285.7L633.5 285.4L632.6 285L633.2 281.5L632.9 278.4L631.2 276.2L629.6 273.5L628.3 271.9L628.3 271.9L627.5 269.8L627.1 267.4L626.2 266.3L624.6 266.8L624.4 268.1L621.9 269L621 268.8L621 268.8L618.6 269.2L617.4 269.4L616.3 269.9L616 271.8L615.6 273.2L613.7 274.5L611.5 276L607.9 280.4L605.6 282.5L605.6 283.6L603.1 284.7L602.5 285.8L600.7 287.1L600.8 289.6L601.1 293.2L600.1 296.4L600.1 300.9L598.9 300.9L598.2 303.7L596.4 305.1L594.9 307.1L593.4 305.9L592 301.9L590.8 298.3L588.8 293.7L587.1 288.5L586.4 286.7L585.3 282.3L584.1 276.9L584 274.5L584.1 272.8L583.8 270.7L583.5 267.7L582.8 269L581 271.4L580 271.9L578.6 271.4L576.9 269.2L575.4 267.5L575.7 267L577.8 266.7L578.7 265.5L576.3 265.8L574.6 264.7L573.7 263.4L573.7 263.4L572.2 262.8L571.5 261.1L570.9 260.3L570 258.5L565.7 259.1L563 259L560.4 259.4L558.8 259.1L558.8 259.1L556.5 258.8L550.2 257.8L548.4 255.4L546.8 253.5L545.2 254.6L543.7 255.2L540.5 254.6L538.4 253L537.2 251.4L535.7 251.2L534.5 248.2L533.1 245.5L531.7 245.2L530.3 244L529.3 245.3L529.3 245.3L529.1 245.3L527.9 245.2L528.3 246.3L527.9 247.1L528.4 248L528.9 249.4L529.2 249.8L530.1 252.2L531.8 253.9L532.9 254.9L533 255.5L533 257.7L534.4 260.4L534.4 260.4L534.4 258.2L534.8 256.7L535.4 256.4L536.1 258.8L536.2 260.7L535.3 260.8L535.3 260.8L536.2 262L538.4 262L540.5 262.3L542.5 261.3L544.6 259L546.1 257.4L546.9 255.8L547.2 256.2L546.8 258L546.9 259.4L547 260L547 260L547.8 261.5L550.2 263.4L552 263.7L554.7 266.8L553.7 269.9L552.2 272.5L550.2 273.3L550 274.9L550.2 276.9L547.5 279.3L544.6 280.7L541.8 282.3L539.6 283.3L539.6 283.3L537.5 285.1L537.7 286.1L534.8 287.4L530.5 289.3L528 290.7L525.1 292.4L521.3 294L517.7 294.4L517.3 292.6L516.6 288.5L516.3 286.5L516.2 284L516.2 284L515.7 282.6L513.6 279L512.4 276.3L510.2 273.1L508 269.7L507.7 266L505.5 262.3L503.7 259.5L501.9 256.1L500.2 252.9L498.6 250.7L497.7 251L498.3 248.4L498.5 247.1L498.5 247.1L498.6 246.5L498.5 246.5L498.4 246.6Z"/><path class="p" d="M741.8 358.6L744.1 363.5L745.2 368.8L746.4 368.3L748.2 371.9L749.3 375.8L750 378.9L751.6 382.4L754.8 384.5L757 387.7L758.6 391.3L760.6 391.9L761.7 395.4L764.2 398.1L766.3 397.9L765.8 401L765.8 403.6L766 405.6L766.9 409.3L765.9 414.1L765.4 417.5L762.9 421.8L761.7 424.6L760.8 426.4L760.6 428.4L759.2 430.2L758.7 434.4L758.7 435.7L754.3 436.9L750.7 440.6L748.6 439L747.3 436.9L746.7 438.1L744.1 439.8L741.8 438.4L739.8 438.3L737.5 437.3L735.7 434.7L734.8 431.1L733.7 429.7L731.9 430L732.8 427.8L731.6 425.7L731.1 428.5L729.2 429L730.4 425.7L731.2 420.6L730.7 422.2L729.2 424.5L726.9 427.3L727 428.1L725.3 426.6L724.2 422.7L723.1 421.5L721.9 419.6L716 417.6L711.1 418.2L706.8 420L703.4 420.9L700 422.7L699.7 423.9L695.2 424.8L691.2 424.9L689.6 426.3L686.2 428.2L683.2 428.2L680 426.1L679.6 423.7L681.1 423L681.3 419.1L680.3 415.6L679.7 414.1L678.7 409.6L677.7 406.5L675.4 402L677.1 402.2L677.9 402.5L676.6 398.4L676 395.9L676.8 391.7L677.7 389.6L678 391.4L678.8 389.6L679.8 389.2L683.6 386.3L687.8 385.3L690.9 384.2L693.9 382L695.9 378.9L697.5 374.4L699.1 377.2L699.1 374.7L700.9 374.1L702 371.3L703.6 368.8L706.6 367L708.6 368.8L709.5 370.5L710.2 369.9L711.3 370.2L712.6 370.2L712.6 367.7L714 365.8L715.5 363.4L716.5 362.6L719.4 362.2L717.6 360.2L719.4 359.7L721.5 361.6L723.1 362.2L725.3 362.7L727.1 362.2L729.2 362.7L729.4 363.1L727.1 365.8L728.3 367.1L726.9 368.3L725.8 370.2L727.1 371.9L729.4 373L731.6 374.7L734.6 377.2L738 377.5L739.3 373.3L739.8 369.1L739.8 364.9L740.2 363.8L740.5 361.9L740.9 359.4Z"/></g>
<path class="i" fill="#416d80" stroke="#416d80" d="M406.6 182.8L407.7 183.1L410.2 181.8L411.2 182.3L411.8 181L413.9 181.3L415.4 180.6L417 180.3L420 180.5L421.6 180L422.5 179.1L422.7 178.3L420.8 178.1L421.5 177.1L422.4 176.4L423.4 174.5L422.4 173L420.6 173L419.9 173.5L420.2 172.3L419.7 170.8L419.2 169.1L418.1 167.7L416.8 167.2L416.3 166L414.9 163.3L414.6 162.8L412.2 162.5L413.6 161.4L412.9 160.9L413.7 160.5L414.8 158.4L415.4 157.2L414.9 156.4L412 156.4L409.9 157.2L410.9 155.9L410.4 155.4L412.5 153.8L412.7 153L411.8 153L408.1 153.2L407.5 154.5L407.2 155.7L406.3 156.8L406.6 157.9L406.2 158.9L405.4 160L407 161L406.8 162.5L406.3 164.9L407.2 163.5L408.4 162.8L408.9 164.4L408.1 166L408.3 167.2L409.5 166.6L411.5 166.3L412.4 166.1L411.3 167.7L412.2 169.1L413 169.1L412.5 170.1L412.5 171.3L411.8 171.6L410.7 171.6L409 171.5L408.7 173.5L410.2 173.2L410.2 174.9L408.8 175.9L407.5 176.6L407.9 177.4L409.7 177.4L409.9 177.8L410.5 177.6L412.3 178.1L413.3 177.6L413.2 177.9L412.7 178.6L411.5 178.9L410.2 178.9L409.3 179.6L409.2 180.3L408.3 181.1L407 182.3ZM447.7 221.2L449.7 220.8L452.3 221.1L454.7 220.5L453.6 222.7L454.1 224.1L453.6 225.3L451.7 224.1L450.1 223.4L449 222.7L447.6 221.8ZM438 213.2L438.5 215.4L438.5 217.5L439.5 218.5L440 217.5L441.1 217.7L441.4 215.1L441.1 212.3L440.3 211.2L439.1 212.1L438.5 212.4L437.9 212.1ZM440.7 205.7L440.8 206.6L441.1 208.5L440.5 210.1L440.2 210.7L438.9 209.1L438.8 207.7L439.2 207.1L440 206.6L440.5 206.6ZM472.6 229.4L472.7 228.5L473.7 228.8L476.3 229.3L478.5 229.7L478.9 230L477.6 230.3L475.4 230.5L472.8 229.6ZM492.5 230.2L492.7 231.1L494.1 231.5L495.6 230.6L496.5 230.5L496.3 229.9L497.7 228.2L494.8 229.3L493.9 229.9ZM424.8 216.3L426.5 215.2L427.3 216L426.4 217.2L425.3 216.9ZM444.6 163.7L446 162.6L447.3 162L448 163.5L447.1 164.6L447.6 165.1L446.8 166.3L446.5 167.4L444.3 166.8L444.8 165.3ZM441.6 164.4L442.8 163.9L443.9 164.9L443.7 165.8L442.3 165.8L441.7 165.1ZM460.5 159.3L460.4 157.9L462.2 155.5L462.7 155.9L462.1 157.7L461.1 158.9ZM456.6 161.8L457 159.5L457.9 157.7L458.2 157.9L457.3 160.3L456.9 161.8ZM468.9 153.8L470.6 153L472.2 153.6L470.8 154.5L469.4 155.5L469.2 154.7ZM469.4 152L470.6 151.4L471.5 152.1L470.6 152.9ZM448.6 118.3L452.3 115.3L454.3 112.5L455.9 112.5L455.6 114.5L453.4 116.3L450.2 117.7ZM482.1 226.9L483.4 225.9L483 227.2L482.3 227.6ZM477.9 217.5L479.2 217.1L479.6 218L478.3 218.1ZM538.2 104.7L536.6 102.2L538.9 99.3L541.2 95.9L543.4 93.3L546.1 89.4L550.2 86.4L556.3 83.7L564.2 82.2L571 80.2L574.6 80L573.3 82L566.5 84.6L557.5 87.3L552.9 90.7L548.4 94.6L546.1 95.9L547.9 99.3L547.3 104.3L548.4 106.7L543.9 106.7L540.5 105.9ZM525.8 65.1L532.6 66.1L537.1 64.7L532.6 61.8L525.8 62.8ZM543.9 65.1L550.7 66.1L555.2 64.2L550.7 62.3L543.9 62.8ZM555.2 61.4L562 62.8L566.5 61.4L559.7 59ZM632.1 67.5L636.6 71.1L645.7 71.6L653.6 70.7L650.2 68.4L645.7 66.1L638.9 65.1ZM644.5 72.1L645.7 73.9L650.2 76.2L657 73.9L655.9 70.7L649.1 70.7ZM631 62.3L634.4 64.7L640 65.1L641.2 61.8L635.5 60.4ZM729.4 87.3L732.8 83.7L738.4 83.7L746.4 86.4L747.5 88.6L741.8 89L736.2 89.4L731.6 89.4ZM750.9 86.4L759.9 87.7L758.8 89.4L752 88.6ZM735 95.4L739.6 93.3L744.1 95L740.7 96.3L736.2 95.9ZM823.3 105.5L827.8 103.4L832.3 103.9L831.2 105.9L825.5 106.1ZM528.7 113.7L531.4 111.6L533.2 113.3L531.4 114.9ZM551.8 109.6L554.1 107.6L556.3 109.6L554.1 110.8ZM576.7 95.9L580.1 95L581.2 96.7L577.8 97.1ZM742.3 168L743 171.1L743.6 174.5L744.3 179.6L745.2 183L746.8 186.3L746.9 187.4L743 185.6L742.7 189.6L744.1 193.5L744 195.8L742.3 193.8L740.9 196.4L740.5 192.8L740.9 189.6L741.1 184.6L740.9 180.3L740 176.2L740.2 171.8L741.4 168.7ZM770.8 182.6L772.8 180.6L772.1 182.3ZM789.3 153.2L791.1 151.1L791.8 152.5L790 153.9ZM740.6 197.7L743 200.6L745.9 202.5L748.3 201.4L749.3 204.6L746.1 205.8L743.5 209L740.7 207.2L739.8 206.9L738.4 207.9L737.1 207.2L736.9 208L737.9 209.6L738.9 209.4L736.6 210.7L735.7 208.2L735.9 206.9L737 204.6L739.1 204.7L739.9 202.7L740 199.3ZM738.2 210.4L739.5 210.7L739.7 213.5L740.8 216.3L739.9 218.5L739.6 220.3L738.4 220.6L738.3 224.4L738.1 228.2L735.8 230.6L735.6 228.8L735.4 229.9L734.2 229.7L733.6 231.5L732.8 230.3L732.1 231.5L731 231.4L729.4 231.5L729 230.3L728.4 231.5L729.2 232.6L727.7 233.2L726.6 235L725.1 233.6L725.1 232.7L725.8 231.4L724.7 231.4L722.5 231.8L719.1 232.3L718.1 233.6L716.7 233.5L715.6 233.5L715.8 232.1L716.7 232L718.2 230.6L719.5 229.1L720.9 228.7L723.1 228.7L725.3 228.1L727.2 228.2L727 227.3L728.5 225.5L730.1 222.7L729.4 224.7L729.8 225L732.2 223.7L734 221.4L735 219.7L735.7 218.5L735.5 215.4L736.2 214.4L735.9 213.2L736.9 211.3L737.9 212.3L738.4 211.3ZM718.1 235.3L719.7 233.6L720.3 233L722.7 232.3L724.1 232.7L724.3 233.8L723.1 235.6L721.6 234.8L720.3 237.1L719.5 236.6L719.2 235.7ZM715.7 233.5L717.5 234.4L717.3 235.6L718 236.5L717.4 237.6L716.8 239.6L716.6 241.1L715 242.2L714.1 241.5L714 239.3L713.5 238.4L713.1 237.2L713 237.6L712.4 235.4L713.4 234.8L714.5 234.4ZM708.2 256.5L709.6 254.5L709.7 254.8L708.7 256.4ZM732.1 221.2L732.8 220.3L732.9 221.2L732.3 221.8ZM694.4 258.8L695.1 260L694.5 262.5L693.5 266.1L692.8 268.5L691.5 266.5L691.2 265.1L691.3 263.1L692.1 261.7L693 260.1L693.6 259.4ZM746.8 445.5L750.7 446.9L752 446.5L754.3 445.7L754.9 446.1L754.9 450.2L754.2 452.7L754.3 453.4L752.8 452.7L751.7 454.6L749.7 454.5L748.6 452.4L747.9 450.2L746.8 447.1ZM728.5 430.3L730.7 429.9L731.9 430.6L729.4 431.2ZM714.5 360.5L716.5 360.2L716.9 361.1L714.9 361.6ZM728.3 366.9L729.2 367.1L728.9 368.4L728 368.3ZM744.9 442.1L745.4 442.4L745.4 443.7L745 443.5ZM753.8 442.7L754.9 443.3L754.7 444.6L754 444ZM810.1 426.3L810.8 426.3L812.9 428.7L813.8 428.8L814.4 430.6L815.1 433.7L816.1 432.6L817.4 433.4L817.5 435.5L818.1 436.1L819.9 437L823.4 436.3L822.1 439.3L821.9 441L819.7 441.8L820.1 442.3L819 444.9L818.1 446.1L816 448.3L814.9 447.4L815.4 446L815.4 443.2L813.5 442.1L812.5 441.2L813.3 440.4L814.4 439.3L814.9 437.5L814.9 436.6L814.3 434.3L813.5 432.3L812.2 429.9L811.1 428.7ZM810.1 444.9L810.9 445L810.4 445.8L810.8 445.8L811.4 447.2L813.1 446.3L813.8 447.1L813.8 448.8L812.4 450.8L811.1 452.7L810.3 454.5L811.1 455.3L809.5 455.6L807 457.2L806.3 459.4L805.6 461.7L803.6 463.8L801.8 464.4L800.3 464.3L799.5 463.4L798.4 463L796.3 462.8L796.1 461.5L797 459.4L799.1 457.8L800.2 456.1L801 455.9L801.8 455.4L804 453.7L806.2 451.8L806.8 451L807.3 448.8L808.8 447.2L809 445.7ZM798.6 465.1L800 465.1L799.7 466.2L798.4 466.4Z"/>
<path class="i" fill="#7bb25a" stroke="#7bb25a" d="M402.7 164.6L405.5 165.3L406.3 166.5L406.6 167.2L407.1 167.9L406.9 168.6L405.6 169.2L405.6 171.6L405.9 173L405.1 175.7L403.7 175.9L402.3 176.2L400.7 176.9L400.1 177.6L397.3 178.1L396.4 176.9L395.8 175.9L396.9 174.9L397.7 174.2L396.9 174.4L399.1 172.3L397.7 172L396.4 171.5L396.6 169.4L396.8 168.4L398.6 168.4L400.1 168.4L400.9 167.3L399.5 167L400.7 165.4ZM600.4 302.3L601 302.2L602.2 303.8L603.3 305.8L604.3 308.1L604.7 310L602.9 312.5L601.8 313L600.9 312.7L600.1 310.3L600 308.4L599.9 306.4L600.2 304.7L600.5 303.7ZM635 314L637.8 314.8L639.2 315L641.2 316.7L642.7 318.9L645.2 321.3L646.6 322.9L647.9 323.6L649 324.5L650.7 325.5L652.2 327.6L653.8 328.9L654.3 330.8L655.6 332.1L656.1 334.4L656.8 335.5L658.3 335.8L659.5 337.7L658.9 340.7L659 342.9L658.7 345.2L657.7 344.3L656.1 344.3L656 345.4L650.8 339.6L647.9 336.3L646.5 331.8L644.8 328.9L642.9 324.4L640.9 322.5L639.1 320.2L636.9 317.8L635.2 315.5ZM657.6 347.7L659.3 345.4L661.2 345.9L663.6 346.3L665.1 347.7L667.2 348L669.2 348.2L670.3 346.7L671.7 347.4L672.8 348.1L674.5 348.9L676.2 350.3L677.4 350.3L678.4 350.6L678.3 351.7L678.4 353.2L675.5 352L672.8 352L669.9 351.7L666.9 350.4L666 350.4L664.9 350.6L662.9 350.3L660.4 349.5L660.2 348.4L658.3 348ZM674.4 348.5L677.1 348.1L677.6 348.4L676.2 349.1L674.4 348.9ZM678.4 351.5L680 351.3L681.2 352.2L680.1 353.3L678.7 352.2ZM681.5 352.2L682.8 351.7L683.5 352.6L683 353.6L681.7 353.3ZM683.6 352.4L686.2 351.4L688.7 352L689 353.1L686.2 354.2L683.7 353.9ZM690.6 352.2L693.2 352.2L697.3 351.4L697.7 352.1L695.5 353.5L692.1 353.5L690.6 353.2ZM688.7 355L691.4 354.8L692.8 356.6L690.9 357.5L688.7 355.9ZM698.8 357.6L700 354.8L702.2 352.9L707.4 352.1L705.6 353.9L702.5 355.3L700.9 357.1ZM667.5 323.6L669.1 324.4L670.6 325L671.5 322.8L675.1 320.4L677.4 317.2L679.4 315.5L680.7 314.1L682 312.8L683.7 310.2L684.6 310.2L685.7 311.7L686.6 313.2L689.2 314.5L687.8 317.2L686.2 317.7L686.2 317.7L685.5 319.9L686.2 323.2L688.6 326.5L686.1 327L685.3 329.2L685.2 330.8L683.8 332.6L682.8 335.5L682.8 338.2L681.7 339.2L678.7 340.4L678.7 338.5L676.2 338.2L672.8 338.5L672.1 337.1L668.8 337.1L668.4 333.6L666.5 329.3L665.8 327L666.2 325.1L667.5 323.6ZM701.9 325.1L702.7 324.7L700 326.6L697.7 326.6L695.5 326.3L693.2 325.6L692.7 325.6L692.7 326.3L690.9 327.6L690.5 329.2L690.6 331.5L689.6 333.3L688.3 336.5L688.2 337.7L688.6 338.9L690 340.2L689.6 343.3L689.8 344.5L691.9 344.5L691.7 342.3L691.8 339.3L691.4 337.4L693 336.5L693.4 338.2L694.5 340.4L694.5 342.5L695.5 342.6L696.6 341.4L696.8 340L695.9 338.5L695.2 336.6L693.9 334.4L695.5 333.6L697.9 331.8L698.7 331.5L697.3 331.7L694.5 331.7L693.4 333L692.6 333L691.4 331.7L691.2 327.8L693.9 327.8L697.7 327.8L700.9 328.1L702.1 326.5ZM707.9 323.2L709 323.2L708.8 325.6L710.6 325L710.6 326.5L709 327.3L709.7 330.3L708.8 331.7L708.3 328.4L707.7 326.5ZM708.8 338L711.1 337L713.5 337.3L715.5 338.5L713.3 338.5L711.1 338.4L709 338.6ZM704.5 338L706.5 337.7L707.3 338.5L706.1 339.7L704.7 339.1ZM657.4 334.4L659.5 333.6L660.8 336.3L660.4 337.7L658.8 335.5ZM639.1 325.4L640 325.4L640.9 327.6L640.3 327.6ZM642.5 331.9L643.4 331.9L644.1 334.1L643.2 333.9ZM716.4 331.5L719.2 330.2L722.8 331.5L723.1 334.4L722.8 337.1L724.9 338.4L726 338.4L727.8 335.5L729.8 334L733.3 334.3L737.8 336.2L738.4 336.3L739.1 336.6L744.4 338.9L746.4 339.7L749.3 343.4L751.6 345.2L753.9 347.3L752 347.7L752.5 349.5L754.5 351.3L755.6 354L757.2 354L758.6 355.8L760.7 357.3L760.3 358.4L758.6 358.2L754.3 357.2L752.3 355.3L750.9 353.6L749.2 351L747.1 350L745.2 350.3L743.6 352.2L743.9 353.7L743.4 354.2L741.4 354.6L738.4 354.2L737 352.5L733.9 351.5L731 352.2L733.2 348.9L731.9 344.8L730.5 343L728.3 342.1L725.3 341.4L721.9 339.2L720.3 340.4L718.8 337.3L718 336.7L721.5 335.8L719.7 335.4L717.8 333.6L715.8 333.2ZM755.1 344.5L757.7 344.3L760.6 344.1L763.8 340.7L764.2 342.3L762.2 344.3L759.9 346.3L757.7 346.5ZM760.6 336.3L763.3 338.2L765.8 341.5L765.1 342.2L763.1 339.1ZM769.2 344L771.5 346.2L772.1 348L770.6 347.3ZM780.5 354.7L783.2 356.1L782.1 356.2ZM782.8 352.2L784.4 355L783.7 355ZM778 349.8L781 352.2L780.3 352.4ZM773.5 347.6L775.8 349.2L775.1 349.5ZM796.3 369.7L797.7 370.5L797.5 372.2L796.6 371.9ZM800 377.7L800.6 378.2L800.2 378.4ZM820.6 377.5L823 377.2L823.6 378.9L821.9 379.6L820.6 378.9ZM823.5 375.5L826.7 373.8L826.4 374.9L824.2 376.1Z"/>
<path class="i" fill="#416d80" stroke="#416d80" d="M403.4 165.6L405.5 165.3L406.3 166.5L406.6 167.2L407.1 167.9L406.9 168.6L405.6 169.2L405.3 169.1L404.4 169.2L402.9 168.9L401 167.9L401.6 167L402.7 166.1Z"/>
<g fill="#7bb25a"><path class="c" d="M452.9 180.1L453.4 178.6L452.5 176.9L452.8 176.1L452.5 174.4L451.5 173.4L452 171.8L451.7 169.8L454.6 168.7L457.7 167.3L460.9 166.5L461.6 168L463.3 168.2L464.2 167.9L464.2 167.9L471 168.2L471 168.2L472.6 169.6L472.6 169.6L473.5 173.9L471.9 175.4L473 177.6L473 177.6L474 180.1L471.5 183.3L470.5 186L470.5 186L467 185L464.9 185.6L463.6 184.5L462.1 184.6L462.1 184.6L461.4 183.3L459.5 182L457.7 181.6L456.1 181.6L456.4 180.8L454.1 179.8L452.9 180.1Z"/><path class="c" d="M467.1 164.9L467.2 163.5L467.1 162.3L469.2 161L473.7 161.4L476 161.8L479.6 163.5L479.6 163.5L479.4 165.6L477.8 166.3L477.3 168.4L474.7 169.8L472.6 169.6L472.6 169.6L471 168.2L471 168.2L470.8 166.1L467.9 165.1L467.1 164.9Z"/><path class="c" d="M467.1 162.3L467 160.7L467.1 158.8L468.2 157.5L470.6 156.3L471.9 157.9L473.7 158.9L474.7 158L474.5 155.8L476.7 155.2L479.4 157L481.3 157L481.3 157L482.5 157.9L482.1 159.6L483.2 161.9L483.2 161.9L481.9 163.2L479.6 163.5L479.6 163.5L476 161.8L473.7 161.4L469.2 161L467.1 162.3Z"/><path class="c" d="M457.8 187.6L458.4 186.8L460.4 186.1L462.1 184.6L463.6 184.5L464.9 185.6L467 185L470.5 186L469.6 188.3L468.1 187.9L465.8 187.9L464.5 189.1L462 189.4L461.8 190.2L459.7 190.4L458.2 189.6Z"/><path class="c" d="M486.5 198.2L486.6 198.8L484.3 201.9L484.2 203.3L480.5 202L477.1 203.6L474.4 203.5L471.3 203L470.7 201.9L470.7 201.9L469.6 200.9L467.9 199.8L468.1 198.7L465.3 195.6L465.3 195.6L467.6 194L469.2 191.2L471.3 189.6L471.3 189.6L475.8 190.6L479.6 188.8L479.6 188.8L481.4 190.9L483 194.1L483.2 197.9Z"/><path class="c" d="M479.6 188.8L481.4 190.9L483 194.1L483.2 197.9L484.9 194.6L487.5 194.8L486.4 191.7L485.5 189.9L482.2 188.1Z"/><path class="c" d="M455.1 199.9L456.3 198.7L459.8 199.1L462.4 199.8L463.2 199.6L462.7 201.4L463.7 202.7L462.9 204.1L461.8 204.9L461.2 207.1L459.4 206L458.4 204.1L456.1 201.9Z"/><path class="c" d="M461.3 207.6L462.7 208.5L463.3 209.3L463.5 211L463.3 211.9L463.5 213.7L464.7 215.5L464.7 216L465.4 215.7L466.3 214.1L467.1 212.4L469 211.6L471.3 210.9L471.5 209.6L470 207.9L468.3 208L468.7 206.6L467.2 205.4L466.1 205L465.5 206.1L462.9 204.1L461.8 204.9L461.2 207.1Z"/><path class="c" d="M433.8 184.8L434.2 183.6L433.4 182.5L432.5 183.6L432.7 184.6Z"/><path class="c" d="M500.7 227.5L501.3 225.5L500 225.5L497.7 224.9L495.7 226.9L493.7 227.2L491.8 225.6L488.9 224.7L488.2 226.5L485.3 225.3L483.2 224.9L481.4 224.3L481 222.4L478.9 220.3L480.3 219.8L479.9 217.2L478.4 216.6L478.7 215.1L480.5 213.8L482.7 214L485.1 213.8L487.1 212.7L485.1 211.9L485.3 211.3L485.3 211.3L488 211.5L490.5 211L494.1 209L495.8 208.8L499 208.7L500.9 209.8L501.6 211L504.3 211.8L509.3 211.9L511.1 211.8L513.4 210.4L513.4 210.4L515.6 210.5L517.7 211.6L517.7 211.6L518.3 212.9L518.1 214.7L520.3 215.8L520.8 216L520.8 216.2L520.8 216.2L519.9 216.9L519 216.9L519.7 220L519.7 221.5L520.3 222.9L520.8 223.8L520.8 223.8L519.4 224.3L517.2 223.2L515.3 224L515.3 224L512.7 224L509.9 224.9L507.2 225.2L503.4 225.3L502.4 226.5L501.8 226.7L501.2 227.8L500.7 227.5Z"/><path class="c" d="M478.4 212.8L479.1 211.2L479.6 210.9L479.1 209.8L480.5 208.8L481.9 209L482.8 208.8L483.1 210.2L485.2 211.2L484.9 211.9L482.8 211.9L481.7 212L480.5 213.2L479.7 213.8L478.7 214.9L478.9 214.1L480.1 213.2Z"/><path class="c" d="M513.4 210.4L513.6 209.9L513.7 208.3L512.2 205.7L509.9 204.4L511.5 203.9L514.5 205L516.7 205.4L518.5 206.9L521 206.6L522.8 207.2L524.4 209.1L524 210.1L525.1 211L523.5 211.3L521.9 210.5L521.3 211L522.4 212.4L523.3 214.3L522.6 215.4L524.6 216.6L524.6 218.5L523.9 218.6L523.1 217.1L521.3 215.8L520.8 216L520.3 215.8L518.1 214.7L518.3 212.9L517.7 211.6L515.6 210.5L513.4 210.4Z"/><path class="c" d="M520.8 223.8L520.3 222.9L519.7 221.5L519.7 220L519 216.9L519.9 216.9L520.8 216.2L520.8 216.2L521.1 216.8L522.3 218.1L523.9 218.6L524.6 218.5L524.6 218.5L525.8 217.5L527.6 216L528.8 216.9L528 218.6L529.4 220L530.1 220L531.4 222.7L534 224.6L537.1 225.5L541.6 224.4L541.4 223.2L543.4 222.9L545 221.1L547 220.5L548.9 220.5L551.6 222.3L553.6 222.7L555.9 225.3L557.8 225.3L557.9 228.4L557.9 228.4L557.7 230.9L556.3 233L556.4 234.4L557.2 234.8L556.5 238.7L557.1 240.8L559 241.1L559.3 242.7L557.2 245.6L557.2 245.6L559 248.8L561.4 250.3L561.5 253.2L562.7 253.5L562.4 254.9L559.4 256.2L558.8 259.1L558.8 259.1L556.5 258.8L550.2 257.8L548.4 255.4L546.8 253.5L545.2 254.6L543.7 255.2L540.5 254.6L538.4 253L537.2 251.4L535.7 251.2L534.5 248.2L533.1 245.5L531.7 245.2L530.3 244L529.3 245.3L529.3 245.3L528 243.8L528 242.4L527.4 242.2L527.7 239.9L526.7 237.9L523.5 236L522.2 233.3L522.2 230.3L524.2 227.9L522.2 227.3L520.8 223.8Z"/><path class="c" d="M541.4 223.2L540.7 217.2L539.1 215.1L539.1 211.3L538.1 209.6L541.6 207.7L544.9 211L546.1 211L546.1 211L548.4 211L548.6 209.1L550.7 207.2L552 206.3L555.2 208.2L555.4 210.7L559.5 211.6L560.6 215.1L564.7 218.3L567.9 220.3L570.1 221.2L570 223.2L570 223.2L567.9 223.4L566 224L565.4 226.4L562.4 227.8L560.4 229.9L557.9 228.4L557.9 228.4L557.8 225.3L555.9 225.3L553.6 222.7L551.6 222.3L548.9 220.5L547 220.5L545 221.1L543.4 222.9L541.4 223.2Z"/><path class="c" d="M572.8 223.7L574.1 220.6L573.5 218.6L572.6 218.1L571.9 216.6L574.4 216.5L575.5 216.6L574.6 214.6L576.2 214.4L576.2 212.6L578.7 211.8L579.4 212.6L578.7 213.7L578.7 213.7L579.2 214.4L577.8 214.7L576.8 214.7L576.2 216.5L578.9 216.3L581.2 216.3L582.3 217.1L586.1 216.8L586.1 216.8L586.5 219.7L588.8 219.8L588.9 223.5L588.9 223.5L585.3 222.9L584.1 224.7L581.4 225.2L581.2 221.5L580.6 220.3L579.4 220L578.3 221.5L576.7 222.4L576.2 224L573.3 224.3L572.8 223.7Z"/><path class="c" d="M557.9 228.4L560.4 229.9L562.4 227.8L565.4 226.4L566 224L567.9 223.4L570 223.2L570 223.2L572.8 223.7L573.3 224.3L576.2 224L576.7 222.4L578.3 221.5L579.4 220L580.6 220.3L581.2 221.5L581.4 225.2L584.1 224.7L585.3 222.9L588.9 223.5L588.1 224.2L588.1 224.2L585.3 224.6L581.5 225.9L580.5 227.2L581.4 229.1L580.3 232.3L577.8 233.3L577.6 236L576.2 237.8L576.2 239.6L573.7 239.9L572.8 241.2L569.7 242.4L569.4 245.6L564.2 246.9L560.8 246.9L557.2 245.6L557.2 245.6L559.3 242.7L559 241.1L557.1 240.8L556.5 238.7L557.2 234.8L556.4 234.4L556.3 233L557.7 230.9L557.9 228.4Z"/><path class="c" d="M557.2 245.6L560.8 246.9L564.2 246.9L569.4 245.6L569.7 242.4L572.8 241.2L573.7 239.9L576.2 239.6L576.2 237.8L577.6 236L577.8 233.3L580.3 232.3L581.4 229.1L580.5 227.2L581.5 225.9L585.3 224.6L588.1 224.2L588.1 224.2L590.9 227.3L593.2 228.4L595.5 228.8L595.5 228.8L593.6 230.5L589.1 231.5L586.7 231.4L586.9 235.7L588.2 237.1L589.9 238.4L588 241.9L586.6 245.2L584.5 248.1L583.1 251L579.2 251.2L576.9 253.3L578 255.2L578.2 257.7L579.8 261.5L575 261.7L573.7 263.4L573.7 263.4L572.2 262.8L571.5 261.1L570.9 260.3L570 258.5L565.7 259.1L563 259L560.4 259.4L558.8 259.1L558.8 259.1L559.4 256.2L562.4 254.9L562.7 253.5L561.5 253.2L561.4 250.3L559 248.8L557.2 245.6Z"/><path class="c" d="M602.8 244.6L605.2 244.1L609.3 247.2L612 249.1L614 251.3L618.9 251.4L618.9 251.4L618.8 255.5L616.5 255.6L611.7 254.9L607.9 252.9L603.4 250.6L600.5 248.5L602.8 244.6Z"/></g>
<g fill="#7bb25a"><path class="p" d="M496.9 241.3L498.1 239L498.6 236.9L498.9 236L500.6 235.4L500.3 237.1L500.3 237.1L500.7 237.2L502.7 238.4L507.2 235.3L507.2 235.3L508.1 238.8L508.1 238.8L503.2 240.8L505.4 243.7L504.3 245.2L502.6 245.6L501.1 247.5L498.5 247.1L498.6 246.5L498.5 246.5L498.4 246.6Z"/><path class="p" d="M534.4 260.4L534.4 258.2L534.8 256.7L535.4 256.4L536.1 258.8L536.2 260.7L535.3 260.8Z"/><path class="p" d="M709.8 219.4L711.1 222L712.2 224.1L712.3 227.2L712.2 228.8L711.5 230L709.9 230.8L708.3 231.1L705.6 232.4L705.3 230.9L705.5 228.5L705.9 227.3L704.8 225L705.9 222.9L706 221.8L706 221.8L707 220.3L709.8 219.4Z"/><path class="p" d="M642.4 301.9L642.9 300.1L644.8 296.8L643.6 292.9L641.6 287.6L642.5 285.1L642.7 284L640.5 280.4L640.6 278.1L639.8 278L641.2 274.6L643.4 274.5L645.9 272.9L645.9 272.9L646.9 273.5L646.8 275.3L648.5 275.2L647.8 280.7L649.6 279.5L650.4 279L651.8 280L653.4 278.4L656.3 280.9L656.5 284L658.3 286L658.1 289.3L657.4 289.7L657.4 289.7L654.7 289.7L652.5 290.1L651.4 291.8L651 291.9L651.9 295L652.2 297.2L652.2 297.2L651.3 295.7L650.4 294.9L648.6 294.4L647.7 293.7L646.9 292.1L645.7 292.5L645.6 294.7L645.2 296.8L643.9 300.4L644.2 303.8L645.5 303.7L646.4 306.2L647 309.5L648.6 310.3L649.9 311.7L650.4 312.1L650.4 312.1L649.8 313.5L648.2 313.7L648.2 312.1L647.6 312.1L646.4 310.8L645.9 311.5L645.9 311.5L645.8 311.3L644.5 309.2L643.2 307.1L641.8 307.8L641.8 306.7L641.7 304.8L642.1 302.9L642.4 301.9Z"/><path class="p" d="M650.4 312.1L650.8 312.2L652.8 314.5L653.5 316.9L653.3 318.8L653.5 321.3L654.4 322.5L655.3 325.4L654.4 325.8L653.6 325.6L652.2 324.4L650.8 323.2L649.8 322.4L648.7 321L647.5 318.5L646.9 316.3L646.5 314.4L646.5 312.5L645.9 311.5L645.9 311.5L646.4 310.8L647.6 312.1L648.2 312.1L648.2 313.7L649.8 313.5L650.4 312.1Z"/></g>
<g fill="#1b3563"><path class="c" d="M473 177.6L476.7 176.4L481 177.1L485.7 178.3L488.6 178.6L489.5 176.1L491.4 175.9L491.4 175.9L490.3 172.5L493.4 171.3L491.4 169.2L489.1 166.6L489.6 165.8L489.4 163.9L486 163.3L483.2 161.9L483.2 161.9L481.9 163.2L479.6 163.5L479.6 163.5L479.4 165.6L477.8 166.3L477.3 168.4L474.7 169.8L472.6 169.6L472.6 169.6L473.5 173.9L471.9 175.4L473 177.6Z"/></g>
<g fill="#d4d6da"><path class="c" d="M500.8 231.4L500.3 228.7L500.7 227.5L500.7 227.5L501.2 227.8L501.8 226.7L502.4 226.5L503.4 225.3L507.2 225.2L509.9 224.9L512.7 224L515.3 224L515.3 224L512.8 225.9L513.1 228.4L512.2 232.1L507.2 235.3L507.2 235.3L502.7 238.4L500.7 237.2L500.3 237.1L500.6 235.4L501 234.5L502.3 232.7L501.7 231.5L500.8 231.4Z"/></g>
<g fill="#d4d6da"><path class="p" d="M714.9 207.5L715 207.9L714.5 207.9L713.1 209.4L712.9 212.3L711.7 213L709.7 214.9L708.1 215.7L707.8 217.5L709 219.1L709.8 219.4L707 220.3L706 221.8L704.7 222L703.8 221.2L701.6 220.9L702.7 219.1L702.7 216.6L701.6 216.3L700.8 215.2L700.8 215.2L704.5 212.3L706.5 209.6L709 208.8L711.7 208.2L713.3 205.8L714.9 207.5Z"/></g>
<path class="i" fill="#d4d6da" stroke="#d4d6da" d="M790.5 384.8L796.1 389L797.3 391L795.9 391L792.1 387.3ZM444.3 67.5L443.2 71.1L445.9 74.3L450 75L451.1 77.5L453.4 79.8L457 81.8L458.6 79.8L461.3 77.5L462.2 73.2L468.1 71.6L462.4 69.8L460.2 67.5L455.6 66.1L451.1 67ZM459.7 65.6L464.7 63.7L471.5 63.7L480.5 65.6L477.1 68.8L469.2 69.3L462.4 67.5ZM467 74.3L470.4 73.9L474.9 76.6L470.4 78.4L467 77.1Z"/>
<g fill="#10704a"><path class="c" d="M539.6 283.3L537.5 285.1L537.7 286.1L534.8 287.4L530.5 289.3L528 290.7L525.1 292.4L521.3 294L517.7 294.4L517.3 292.6L516.6 288.5L516.3 286.5L516.2 284L516.2 284L517.2 283.2L517.4 281.2L519.4 281.2L521.7 281.2L524.4 281.6L525.8 282.5L526.9 282.1L528.5 279.1L530.5 277.8L537.1 276.7L539.6 283.3Z"/></g>
<g fill="#1d9453"><path class="c" d="M546.1 211L546.1 199.3L551.9 197.5L557.7 201.5L559.7 204.1L566.3 203.5L569 205.7L568.8 208.8L569.9 209.1L573.3 211.6L573.5 212.6L575.5 210.9L577.8 208.8L580 208L580 208L578.3 210.4L581 211.6L581.7 210.4L584.8 212.4L582.3 214.1L580.1 214.3L579.2 214.4L578.7 213.7L578.7 213.7L579.4 212.6L578.7 211.8L576.2 212.6L576.2 214.4L574.6 214.6L575.5 216.6L574.4 216.5L571.9 216.6L572.6 218.1L573.5 218.6L574.1 220.6L572.8 223.7L570 223.2L570 223.2L570.1 221.2L567.9 220.3L564.7 218.3L560.6 215.1L559.5 211.6L555.4 210.7L555.2 208.2L552 206.3L550.7 207.2L548.6 209.1L548.4 211L546.1 211Z"/><path class="c" d="M573.7 263.4L575 261.7L579.8 261.5L578.2 257.7L578 255.2L576.9 253.3L579.2 251.2L583.1 251L584.5 248.1L586.6 245.2L588 241.9L589.9 238.4L588.2 237.1L586.9 235.7L586.7 231.4L589.1 231.5L593.6 230.5L595.5 228.8L595.5 228.8L595.9 228.8L599.3 232L598.1 235.4L599.3 237.1L597.6 237.8L597.6 241.3L598.9 242.2L602.8 244.6L602.8 244.6L600.5 248.5L603.4 250.6L607.9 252.9L611.7 254.9L616.5 255.6L618.8 255.5L618.9 251.4L618.9 251.4L620.3 250.9L620.6 253L620.6 253L620.8 254.5L624 254.3L627.7 254.3L627.8 253L626.8 251.7L626.8 251.7L628.9 251.4L631.7 249L635.3 247.7L637.8 247.2L639.7 250.3L639.7 250.3L639.1 253.3L637.1 253.2L634.7 256.8L633.5 259.2L633.7 261.1L632.3 263L630.6 262.4L630.7 265.1L630.1 267.7L628.9 268.3L628.9 268.3L628.3 265L626.7 265.5L625.7 263.4L626 262.3L627.8 261.4L628.6 259.7L624 259.2L622.6 258.8L622.7 256.8L619.4 255.1L618.8 257.4L620.7 259.1L618.8 261.1L620.2 262L620.2 264.8L621 267.7L621 268.8L621 268.8L618.6 269.2L617.4 269.4L616.3 269.9L616 271.8L615.6 273.2L613.7 274.5L611.5 276L607.9 280.4L605.6 282.5L605.6 283.6L603.1 284.7L602.5 285.8L600.7 287.1L600.8 289.6L601.1 293.2L600.1 296.4L600.1 300.9L598.9 300.9L598.2 303.7L596.4 305.1L594.9 307.1L593.4 305.9L592 301.9L590.8 298.3L588.8 293.7L587.1 288.5L586.4 286.7L585.3 282.3L584.1 276.9L584 274.5L584.1 272.8L583.8 270.7L583.5 267.7L582.8 269L581 271.4L580 271.9L578.6 271.4L576.9 269.2L575.4 267.5L575.7 267L577.8 266.7L578.7 265.5L576.3 265.8L574.6 264.7L573.7 263.4Z"/><path class="c" d="M620.6 253L622.2 250.4L624 250.7L626.8 251.7L626.8 251.7L627.8 253L627.7 254.3L624 254.3L620.8 254.5L620.6 253Z"/><path class="c" d="M621 268.8L621 267.7L620.2 264.8L620.2 262L618.8 261.1L620.7 259.1L618.8 257.4L619.4 255.1L622.7 256.8L622.6 258.8L624 259.2L628.6 259.7L627.8 261.4L626 262.3L625.7 263.4L626.7 265.5L628.3 265L628.9 268.3L628.9 268.3L628.9 270.2L628.3 271.9L628.3 271.9L627.5 269.8L627.1 267.4L626.2 266.3L624.6 266.8L624.4 268.1L621.9 269L621 268.8Z"/><path class="c" d="M700.8 215.2L700.4 215.5L697.7 216.3L694.5 218.5L693.5 218.9L694.3 216.6L695.7 213.5L695.9 213L695 212.3L693.4 212.4L693 212.9L690 215.4L688.4 217.7L685.8 218.1L685.5 219.4L688.4 221.2L689.1 222L688.6 223.4L690.5 223.8L691.6 222.3L692.6 221.8L694.1 222.6L695.8 222.7L697 223.1L696.4 224.7L694.3 225.2L691.7 227.2L689.9 229.1L689.3 231.1L691.6 232.4L693 236.3L694.5 238.1L695.2 240.2L695.2 241.9L693.2 243.4L693 244.3L695.2 245.3L695.2 247.8L694.5 249.3L693.2 251.2L691.8 253.3L690.9 254.9L690.1 256.8L688.7 259.1L688.1 260.1L686.6 261.3L684.8 263.7L683.6 264.4L680.7 266.3L677.8 267.4L676.4 266.3L676.3 267.8L672.8 269L669.4 270.5L669.4 273.1L668.1 273.1L667.6 269.8L666.3 269.8L664.7 269.4L663.8 269.5L663.8 269.5L661.5 268.5L660.8 265.7L657.8 264.5L656.5 266L654.6 266.8L651.3 266.1L650.5 267.1L650.5 267.1L649.6 270.7L648.3 269.5L648.3 269.5L645.9 269.7L643.9 267.8L644.5 265.5L643.2 264.8L642.7 262.3L640.1 262.7L640.5 259.4L642.7 257.1L642.7 252.3L639.7 250.3L639.7 250.3L637.8 247.2L635.3 247.7L631.7 249L628.9 251.4L626.8 251.7L626.8 251.7L624 250.7L622.2 250.4L620.6 253L620.6 253L620.3 250.9L618.9 251.4L618.9 251.4L614 251.3L612 249.1L609.3 247.2L605.2 244.1L602.8 244.6L602.8 244.6L598.9 242.2L597.6 241.3L597.6 237.8L599.3 237.1L598.1 235.4L599.3 232L595.9 228.8L595.5 228.8L595.5 228.8L593.2 228.4L590.9 227.3L588.1 224.2L588.9 223.5L588.9 223.5L588.8 219.8L586.5 219.7L586.1 216.8L586.1 216.8L586.6 215.1L588.8 213.5L591.4 213.8L593.3 211.9L596.8 210.7L601 208.2L601 208.2L600.9 205.8L602.2 205.2L601.3 202.2L601.3 199.6L604.3 198.2L606.1 198.7L605.6 197.5L607.2 192.2L612.9 192.7L613.4 188.3L616.3 186.3L616.9 186L618.1 185.7L618.1 185.7L618.5 187.6L622.4 189.6L625.1 193L625.3 198.7L631 199.5L635.3 201.5L637.4 206.5L645.7 206.8L649.8 207.2L657 210.1L662.6 207.4L668.3 206.8L672.4 203.5L672.7 199.1L676.6 200.1L681.2 197.9L683.2 195.1L690.5 193.8L690.7 193.2L687.5 189.7L685.9 190.7L681.7 190.6L683.5 183.5L683.5 183.5L685.9 184.6L689.1 182.6L691.2 177.4L692.5 174.4L690.9 173.5L693.6 171.8L698.4 171L703.6 172.7L706.6 178.6L707.9 183.6L712.4 185L715.1 186.8L715.6 190.6L719.2 190.6L724.2 188.6L723.1 191.5L720.6 199L717.8 198.3L715.8 199.8L716.4 204.2L714.9 206.8L714.9 207.5L714.9 207.5L713.3 205.8L711.7 208.2L709 208.8L706.5 209.6L704.5 212.3L700.8 215.2Z"/><path class="c" d="M642.4 301.9L642.3 299L642.5 296.5L642.5 295L642.1 292.6L641.4 290.4L640.6 287.2L640.3 283.9L638.9 282.3L638.6 281.5L637.3 283.5L635 285.7L633.5 285.4L632.6 285L633.2 281.5L632.9 278.4L631.2 276.2L629.6 273.5L628.3 271.9L628.3 271.9L628.9 270.2L628.9 268.3L628.9 268.3L630.1 267.7L630.7 265.1L630.6 262.4L632.3 263L633.7 261.1L633.5 259.2L634.7 256.8L637.1 253.2L639.1 253.3L639.7 250.3L639.7 250.3L642.7 252.3L642.7 257.1L640.5 259.4L640.1 262.7L642.7 262.3L643.2 264.8L644.5 265.5L643.9 267.8L645.9 269.7L648.3 269.5L648.3 269.5L646.9 271.5L645.9 272.9L645.9 272.9L643.4 274.5L641.2 274.6L639.8 278L640.6 278.1L640.5 280.4L642.7 284L642.5 285.1L641.6 287.6L643.6 292.9L644.8 296.8L642.9 300.1L642.4 301.9Z"/><path class="c" d="M648.3 269.5L649.6 270.7L650.5 267.1L650.5 267.1L652.4 269L654.6 271.4L656.2 272.1L655 274.7L657.4 277.4L658.5 279.8L660.5 282.5L662.5 285L662.9 287.6L662.8 288.7L662.8 288.7L661.1 289.9L659.3 290.8L657.4 289.7L657.4 289.7L658.1 289.3L658.3 286L656.5 284L656.3 280.9L653.4 278.4L651.8 280L650.4 279L649.6 279.5L647.8 280.7L648.5 275.2L646.8 275.3L646.9 273.5L645.9 272.9L645.9 272.9L646.9 271.5L648.3 269.5Z"/><path class="c" d="M657.4 289.7L659.3 290.8L661.1 289.9L662.8 288.7L662.8 288.7L662.9 292.1L662.9 295.4L660.2 296.4L658.9 297.3L659.7 299.6L657.2 299.1L655.9 300.7L655.9 300.7L655.2 300.2L653.6 300.1L652.7 298.5L652.2 297.2L652.2 297.2L651.9 295L651 291.9L651.4 291.8L652.5 290.1L654.7 289.7L657.4 289.7Z"/></g>
<g fill="#1d9453"><path class="p" d="M663.8 269.5L661.1 271.6L660.6 273.3L659 274.6L658.7 277.6L660.2 279.5L660.6 280.9L662.9 283.6L664.3 284.8L665.8 287.1L666.6 291.4L667.1 293.7L666.5 295.5L666.5 296.7L664 299.3L661.7 300.8L660.8 302.3L659.7 303.7L656.5 305.6L656.7 302.3L657.2 301.8L655.9 300.7L655.9 300.7L657.2 299.1L659.7 299.6L658.9 297.3L660.2 296.4L662.9 295.4L662.9 292.1L662.8 288.7L662.8 288.7L662.9 287.6L662.5 285L660.5 282.5L658.5 279.8L657.4 277.4L655 274.7L656.2 272.1L654.6 271.4L652.4 269L650.5 267.1L650.5 267.1L651.3 266.1L654.6 266.8L656.5 266L657.8 264.5L660.8 265.7L661.5 268.5L663.8 269.5Z"/></g>
<path class="i" fill="#1d9453" stroke="#1d9453" d="M665.2 276.2L666.7 274.2L669 273.8L670.6 274.9L669.4 277.3L667.2 279L665.4 278.1ZM628.9 297.6L629.6 291.8L630.1 292.6L629.4 297.6ZM692.2 278.1L694.7 278.5L695.9 278.1L696.1 281.5L695.9 284.3L694.4 285.8L694.5 288.2L695.9 290.4L697.7 290.4L699.7 291.4L700.3 293.6L700.2 294.7L698.4 293.5L697 292.9L695.5 291.3L693.9 291.8L693 291.5L692.3 290.1L693.1 289L692.1 289.4L691.4 288.5L690.7 286L690.5 284.1L691.6 285L691.7 283.5L691.7 280.8ZM691.6 292.1L693.6 292.2L694.4 294.3L693.6 295.7L692.5 294ZM684.8 306.3L687.8 302L689.8 298L690.1 300.1L688.2 303.6L685.7 305.9ZM695.2 296.5L697.9 297.5L696.8 300.1L695.3 300.5L695.5 298.5ZM696.4 301.9L697.7 299.1L699 299.6L698.4 303.6L697.4 304.2ZM698.6 303.3L700.1 298.3L700 300.7ZM699.5 302.7L701.2 301.5L701.1 302.6ZM700.7 299.1L701.1 297.6L702.4 298.5L702.8 301.2L701.7 301.3ZM700.5 294.7L702.9 294.7L703.9 298.7L702.2 298.2L701.3 296.5ZM695.6 310.3L695.7 307.8L698.5 305.6L699.5 307.1L700.4 306.7L701.4 305.9L702.2 304.5L703.4 302.3L705 304.5L705.5 307.8L705.7 310.3L705 311.9L703.7 309.9L703.1 311.9L703.7 313.9L702.6 312.6L700.2 312.5L700.2 309.5L698.7 307.8L697.4 309.2Z"/>
<g fill="#ffffff"><path class="c" d="M531.5 193.4L538.8 193.4L538.1 196.3L534.4 199.6L533.5 203.5L536.1 208.1L539.4 212L540.1 221.2L536.8 224.5L532.2 223.9L530 218.6L530.5 213.4L527.9 208.8L525.9 202.2L526.9 198.3Z"/></g>
<path class="b" d="M100.5 111L100.5 147L105 147.8L108.4 151.8L112.9 149.2L117.4 153.6L121.3 160.3L125.4 162.5L125.1 166M141.6 186.3L204.1 186.3L204.2 185L205.4 187.3L211.3 188.6L216.7 189.6L219.5 188.6L227.6 193.2L228.3 194.8L230.5 196.1L232.8 198.3L233.7 203.8L232.8 206.9L231.5 208.2L232.8 209.8L240.7 206.3L240.5 204.4L245.7 203.8L246.8 201.9L249.8 199.3L257.7 199.3L259.3 198L260.4 195.4L261.1 193.8L262.9 191.4L264.9 191.7L266.1 192.5L266.1 196.7L267 198.7L267.9 199M154.5 237.8L160 237.2L168.3 241.3L174.7 241.3L174.7 239.9L178.5 239.9L182.1 243.4L183.3 246.3L186 248.1L187.6 245.8L190.1 245.8L192.3 249.6L194.4 252.5L195.3 255.6L199.6 257.1M217.8 280.1L217.8 279.7L219.7 278.1M217.3 289.6L218.1 289.9L219.2 290.8L221 291.3L220.8 292.4M257.1 279.4L257.2 277.8L256.6 277.8L257.2 276.2L257.1 274.7M268.1 325.9L261.5 324.5L261.5 326.2L262.9 326.5L262.4 327.4L261 327.7L261 329.6L262.4 331.9L261.2 340.7M296.2 322.9L294.8 322.2L293 322.4L292.8 324.1L291.6 324M295.9 400.4L297.7 400.4L298 402.5L297.7 404.9L295 406.8L293.2 408.6L290.7 412.1L289.1 413.8M289.1 413.8L292.8 415.6L293.7 415.7L295.9 417.5L297.7 419.3L299.1 421.2L298.4 422.4L298.6 424.2M289.1 413.8L288.5 417.3L288 420L287.3 424.8M267.4 392.4L267.9 393L267.2 395.9L264.7 397.3L264.5 402.2L264.9 404.2L263.1 406.5L261.8 408.8L261.1 411.2L261.3 413.8L260 416.5L260.4 419.1L261.1 422.1L261.5 425.7L260.2 428.7L260.2 431.4L258.6 432.6L258.4 437.2L259.1 439.3L257.5 442.1L257 444.9L256.8 449.6L257 454.3L257.5 457.5L258.1 460.7L257.2 463.9L255.9 467.2L255.7 470.5L253.4 473.8L254.3 477.8L255.9 477.8L255.9 481.1L256.8 482.2L261.1 482.2L264.7 483.3M264.3 484.4L264.3 492.1M404.7 259.7L408.5 259.7M404.7 259.7L405.9 273.9L406.8 283.7L407.4 284.2L407 286.5L398.4 286.5L398.3 286L395.2 286.8L393.4 286.1L392.8 288.2L391.7 288.6M420 287.9L422.4 287.1L427.4 286.8L428.5 285.1L429 282.6L429.1 276.3M407 300.5L407.5 297.9L409.5 296L409.5 294.3L410.5 292.4L412.1 292.6L412.9 291.7L414.9 290.1L417.8 287.8L420 287.9M420 287.9L420.4 290.7L421.7 292.4L422.4 292.6L423.7 294.3L424.4 295.1L424.9 296.5M419.1 298.7L421.5 299L422.6 297.8L424 297.9L424.9 296.5L425.9 295.1L427.6 297.1M421.5 299L421.3 300.7L422.5 301.9L423.1 304.5L423.1 310.2L423.2 312.2M393.7 295.1L394.6 295.7L396.1 295.7L398.4 295.3L399.5 297.3L400.7 299L401.4 301.2M388.5 294.4L388.5 297.1L386.2 297.6L385.4 299.1M400.3 308.5L398.9 309.3L398.2 307.5L397.5 306L396.2 305.9L395.5 304.4L395.2 303.7L394.1 301.8L391.3 302L391.2 303.7L389.4 304.4M396.2 305.9L395.5 308L393.9 309.5L393.4 310.3M476 268.2L502.9 268.2M502 289.9L501.9 287.9L502.9 284.3L503.2 282.1L506.8 279.5M471.2 299.2L473 302L472.6 304.5L474.2 305.3M481.6 315.3L478.3 315L476.7 315.5L474.7 315.2L471.3 316.2L470.1 317.8L466.1 317.2L463.6 315.2L461.4 317.4L461.6 319.7M454.5 308.6L453.4 310.6L452 312.8L452.4 314.7L452.7 316.6L453.6 318.5L455.9 321.3L456.1 323.2M456.1 323.2L455.6 324.5L452.3 323.2L449.5 323.2L445.1 323.3M449.5 323.2L449.3 325.8L451.8 325.6L452.1 327L450.9 329.7L452.3 330.8L452 334.4L451.3 335.9L448.9 335.6L447.7 334.4L446.6 335.8L445.7 336.9L446.4 338.8L444.6 340M456.1 323.2L456.8 320.4L459 319.2L461.6 319.7M461.6 319.7L460.3 323.2L459.8 328.1L459.5 330.8L456.3 334.7L455.6 338.8L454.1 341L452 342.6L449.8 342.5L449.1 341.8M489.3 319.6L489 322.6L490.3 323.3L488.3 325.9L487.2 327.8L486.4 330.6L486.4 333M473.7 359.1L474.7 360.5L476.7 359.9L476.8 361.2L478.3 361.9L480.3 362L481 361.1L483.7 363.5L485.1 366L486.9 366.2L486.9 362.6L485.1 363.3L483.7 361.7L484.2 358.6L484.3 355.9L483.7 354.7L484.8 352.5L489 351.7M494 355L494.9 356.6L494.8 359.1L495.4 361.1L494.8 363.3L494 364.4L493.4 366.6L494.6 367.7L487.8 370.5L488.3 372.2M494.6 367.7L497.3 368.8L497.6 371.3L497 372.7L497.3 373.8L499.3 376.3L498.9 375.5L500.4 373.3L500.7 370.2L499.8 369.4L498.4 366.3L497.7 362.2L498.5 360.9M472.4 377.7L473.7 377.5L476.6 378.3L474.9 378.9L472.2 378.9L467 379.7L467 390.2L464.7 390.2L464.7 398M485.1 336.6L485.5 338.2L485.8 341.4M491.8 401.5L492.1 404.1L490.5 405.4L489.1 403.9L489.8 400.9L491.8 401.5M399.4 209.1L400.9 208.5L401.1 209.4L404.5 209L405.4 210.1L403.8 211.9L404.1 214.1L403.6 216L402.5 216.1L403.6 218.1L402.9 220L403.6 220.6L402.5 222.6L402.7 223.7M415.4 204.6L416.3 205.5L417.9 206L421 206.6L422.7 206.9L423.3 207.2L424 207.7L426.6 207.5M436.4 203.2L436.9 202L435.1 201.4L435.3 199.3L435.5 197.9L434.8 196.7L435.4 196.4L434.8 194.8L433.5 195.1L432.9 195.6L433.3 194.3L435.2 191.9L436.6 190.9L436.5 188.6L438 186.3L434.7 185.6L433.8 184.8L432.7 184.6L430.4 182.5L429 183.1L428.7 182L426.7 180.5L425.2 179.3M427 178.4L429.2 178.4L430.8 178.1L432.7 179.1L432.3 180.3L433 180.5L433.7 182L433.4 182.5M433 180.5L433.3 178.9L433 176.9L434.8 176.4L435.4 175.4L434.6 174.2L435.7 172.2L435.3 171.6M439 166.3L440.8 166.6M452.9 180.1L451.8 179.6L448.9 181.5L446.8 182L447.7 183.3L447.5 183.8L450.8 187.1L449.8 188.4L448.3 189.2L448.9 190.1L448.9 191.2L447.1 190.7L444.3 191.5L443.1 191L442.5 191.9L441.1 191L438.8 190.2L436.6 190.9M441.1 191L441.2 192.7L443.1 193.2L442.3 195.3L440.5 194.5L439.8 196.6L438.6 194.6L437.2 196.2L435.4 196.4M443.1 193.2L444.3 193.5L446.9 192.7L447.5 193.8L450.4 194.5L449.8 195.4L450.2 196.7L450.6 197.2M450.4 194.5L452.4 194.8L454.9 193.8L455.9 193.3L456.8 191.5L458.1 190.6L458.2 189.6M457.8 187.6L455.9 187.1L453.4 186.3L452.7 187.6L450.8 187.1M469.6 188.3L471.3 189.6M465.3 195.6L462.2 196.4L459.3 196.4L456.8 194.5L456.4 194.3L455.9 193.3M456.4 194.3L454.9 195.4L454.1 197.7L452.3 197.7L450.2 197.7M462.2 196.4L462.4 198L463.3 198.7L462.4 199.8M470.7 201.9L470 203.1L471.5 205L470 207.9M471.3 210.9L474.9 210.2L476.7 211.2L479.1 209.8L480.5 208.8L481.9 209L482.8 208.8M478.4 212.8L479.1 211.2L479.6 210.9L479.1 209.8M444.7 151.6L446.1 150.7L445.9 148.5L447.7 147.4L447.3 144.5L448.5 143.2L446.9 141.9L447.3 139.8L446.8 137L448.2 133.2L451 132.5L451.5 131.3L450.3 131L452.3 128.3L452.6 125L454.5 124.4L456.6 120.8L455.9 119.9L458.6 117.3L460.4 115.5L465.1 115.7L465.9 113.4M465.9 113.4L468.5 115.3L473 118.1L472.5 120.4L473.7 122.4L473.1 124.8L474.1 126.3M465.9 113.4L467.6 112.5L470.1 114.9L471.9 115.1L476 115.1L477.7 113.5L478.3 110.8L482.6 109.2L485.7 111.6L484.9 113.5L487.5 111L489.2 110.4M484.9 113.5L483.8 115.7L487.1 118.9L485.3 122L487.5 126.7L486.4 129.8L488.6 132.9L487.3 134.2L490.8 137.4L486.9 143.7L482.3 146.1M481.3 157L481.4 155.4L481.7 152.1L482.8 150.1M491.4 175.9L495.9 175.1L497.3 176.9L500 181.6L504.3 182L505.4 183.3L510.2 184.3L509.3 187.6L509.5 190.1L506.1 191L505.9 192.5M483.2 197.9L486.5 198.2M455.1 199.9L454.1 197.7M508.1 238.8L510.8 239.4L514.7 241.9L520.6 247.5L524.4 247.8L524.8 247.8L526.8 245.2L527.9 245.2M524.8 247.8L526.8 248.1L527.4 249.4L528.9 249.4M537.1 276.7L543.9 273.9L545.3 268.2L544.3 266.3L538.4 265.5L536.2 262M544.3 266.3L545.7 262.5L546.1 260.4L547 260M524.4 209.1L526.5 210.7L527.8 211.3L529.4 209.3M517.7 211.6L521.3 211M498.5 246.5L499.5 241.9L499.9 238.1L500.3 237.1M498.9 236L500.6 235.4M523.9 218.6L524.6 218.5M618.1 185.7L622.2 183.3L628.5 180.3L632.8 181.1L639.6 183.8L641.8 181.1L641.8 176.2L645.5 176.2L650.7 178.6L650.9 181L654.1 182.5L660.6 181.8L665.1 185.3L670.1 185.8L674.6 184.6L678 182.1L683.5 183.5M618.1 185.7L616.9 186L615.4 184.3L612.2 184.3L607.2 179.6L601.6 179.8L599.3 177.9L595.7 171.8L592.5 168.4L587.5 171.1L585.5 169.4L580.5 169.1L579.8 164.9L575.5 164.7L567 168.2L557.5 169.6L558.6 172.8L555.2 176.6L558.8 178.8L555.1 180.3L551.3 179.3L545.5 181.1L542.7 179.6L538.4 177.9L534.4 177.1L529.6 181L526.5 182L525.3 185.3L525.8 188.6L528.5 190.6L530.3 194.8L530.8 195M580 208L580.5 206.5L585.7 205.7L587.5 205L590.9 206L598.6 206.3L601 208.2M667.5 323.6L667.5 324.8L669.4 326.9L672.4 326.5L673.3 325.4L676.4 325.8L678.7 325.1L679.6 322.4L681 320.2L681.2 317.7L686.2 317.7M738.4 336.3L738.4 354.2M403.4 165.6L402.7 166.1L401.6 167L401 167.9L402.9 168.9L404.4 169.2L405.3 169.1M463.3 209.3L463.8 207.1L464.8 207.1L465.5 206.1M464.8 207.1L466.1 209.1L465.8 211L466.8 212.3L467.1 212.4M466.1 209.1L467.6 208.5L468.3 208M585.5 224.5L587 228L588.5 229.5L587.5 232.5L587.6 237M587.6 237.2L592 236L596 237.5L599 235"/>
</svg>
<div class="t1">IMF DataMapper</div>
<div class="t2">Real GDP growth (Annual percent change, 2017)</div>
<div class="lg">
<div><i style="background:#14704d"></i>10% or more</div>
<div><i style="background:#1d9453"></i>6% - 10%</div>
<div><i style="background:#7bb25a"></i>3% - 6%</div>
<div><i style="background:#416d80"></i>0% - 3%</div>
<div><i style="background:#1b3563"></i>less than 0%</div>
<div><i style="background:#d4d6da"></i>no data</div>
</div>
<div class="ft">©IMF, 2016, Source: World Economic Outlook (October 2016)</div>
</body></html>
